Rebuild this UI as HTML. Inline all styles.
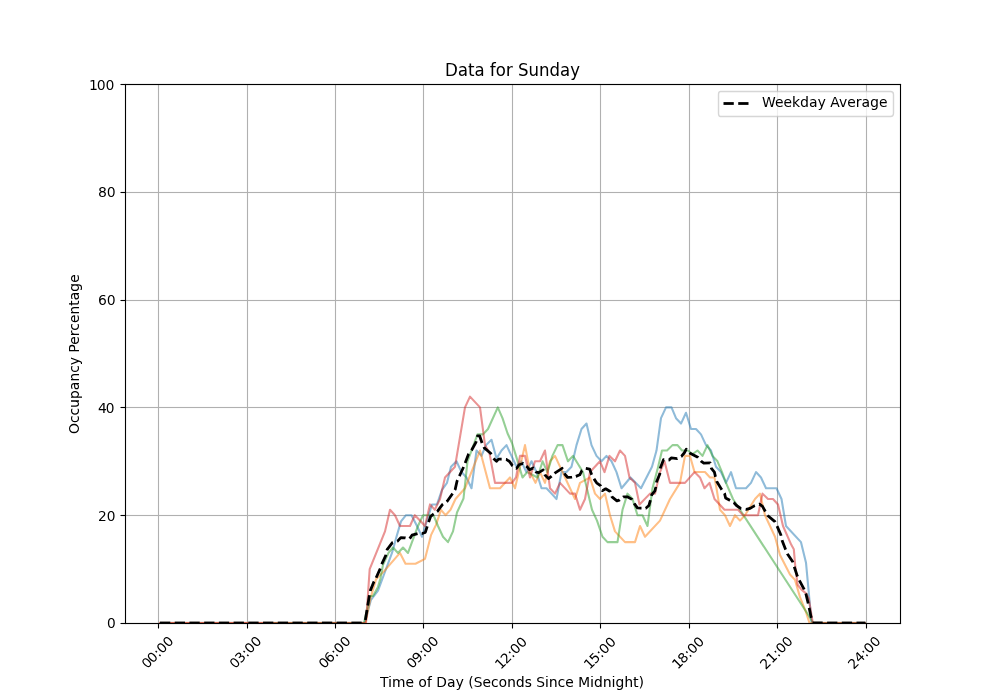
<!DOCTYPE html>
<html><head><meta charset="utf-8"><title>Data for Sunday</title>
<style>html,body{margin:0;padding:0;background:#fff;font-family:"Liberation Sans",sans-serif}svg{display:block}</style></head>
<body>
<svg width="1000" height="700" viewBox="0 0 720 504" style="display:block">
<defs>
<style type="text/css">*{stroke-linejoin: round; stroke-linecap: butt}</style>
</defs>
<g id="figure_1">
<g id="patch_1">
<path d="M 0 504 L 720 504 L 720 0 L 0 0 z
" style="fill: #ffffff"/>
</g>
<g id="axes_1">
<g id="patch_2">
<path d="M 90 448.56 L 648 448.56 L 648 60.48 L 90 60.48 z
" style="fill: #ffffff"/>
</g>
<g id="matplotlib.axis_1">
<g id="xtick_1">
<g id="line2d_1">
<path d="M 114.12 448.92 L 114.12 60.84" clip-path="url(#p07c3448b4f)" style="fill: none; stroke: #b0b0b0; stroke-width: 0.8; stroke-linecap: square"/>
</g>
<g id="line2d_2">
<defs>
<path id="m41c04e71f9" d="M 0 0 L 0 3.6" style="stroke: #000000; stroke-width: 0.8"/>
</defs>
<g>
<use href="#m41c04e71f9" x="114.12" y="448.92" style="stroke: #000000; stroke-width: 0.8"/>
</g>
</g>
<g id="text_1"><path transform="scale(0.72) translate(147.267 669.27) rotate(-45)" d="M 4.3438 -8.9062 Q 3.2656 -8.9062 2.7188 -7.9219 Q 2.1875 -6.9531 2.1875 -5.0000 Q 2.1875 -3.0469 2.7188 -2.0625 Q 3.2656 -1.0938 4.3438 -1.0938 Q 5.4219 -1.0938 5.9531 -2.0625 Q 6.5000 -3.0469 6.5000 -5.0000 Q 6.5000 -6.9531 5.9531 -7.9219 Q 5.4219 -8.9062 4.3438 -8.9062 Z M 4.3438 -10.0000 Q 6.0312 -10.0000 6.9219 -8.7188 Q 7.8125 -7.4375 7.8125 -5.0000 Q 7.8125 -2.5625 6.9219 -1.2812 Q 6.0312 -0.0000 4.3438 -0.0000 Q 2.6562 -0.0000 1.7656 -1.2812 Q 0.8750 -2.5625 0.8750 -5.0000 Q 0.8750 -7.4375 1.7656 -8.7188 Q 2.6562 -10.0000 4.3438 -10.0000 Z M 12.0938 -8.9062 Q 11.0156 -8.9062 10.4688 -7.9219 Q 9.9375 -6.9531 9.9375 -5.0000 Q 9.9375 -3.0469 10.4688 -2.0625 Q 11.0156 -1.0938 12.0938 -1.0938 Q 13.1719 -1.0938 13.7031 -2.0625 Q 14.2500 -3.0469 14.2500 -5.0000 Q 14.2500 -6.9531 13.7031 -7.9219 Q 13.1719 -8.9062 12.0938 -8.9062 Z M 12.0938 -10.0000 Q 13.7812 -10.0000 14.6719 -8.7188 Q 15.5625 -7.4375 15.5625 -5.0000 Q 15.5625 -2.5625 14.6719 -1.2812 Q 13.7812 -0.0000 12.0938 -0.0000 Q 10.4062 -0.0000 9.5156 -1.2812 Q 8.6250 -2.5625 8.6250 -5.0000 Q 8.6250 -7.4375 9.5156 -8.7188 Q 10.4062 -10.0000 12.0938 -10.0000 Z M 18.1250 -1.8438 L 19.5000 -1.8438 L 19.5000 -0.0000 L 18.1250 -0.0000 L 18.1250 -1.8438 Z M 18.1250 -7.0000 L 19.5000 -7.0000 L 19.5000 -5.1562 L 18.1250 -5.1562 L 18.1250 -7.0000 Z M 25.4688 -8.9062 Q 24.3906 -8.9062 23.8438 -7.9219 Q 23.3125 -6.9531 23.3125 -5.0000 Q 23.3125 -3.0469 23.8438 -2.0625 Q 24.3906 -1.0938 25.4688 -1.0938 Q 26.5469 -1.0938 27.0781 -2.0625 Q 27.6250 -3.0469 27.6250 -5.0000 Q 27.6250 -6.9531 27.0781 -7.9219 Q 26.5469 -8.9062 25.4688 -8.9062 Z M 25.4688 -10.0000 Q 27.1562 -10.0000 28.0469 -8.7188 Q 28.9375 -7.4375 28.9375 -5.0000 Q 28.9375 -2.5625 28.0469 -1.2812 Q 27.1562 -0.0000 25.4688 -0.0000 Q 23.7812 -0.0000 22.8906 -1.2812 Q 22.0000 -2.5625 22.0000 -5.0000 Q 22.0000 -7.4375 22.8906 -8.7188 Q 23.7812 -10.0000 25.4688 -10.0000 Z M 34.2188 -8.9062 Q 33.1406 -8.9062 32.5938 -7.9219 Q 32.0625 -6.9531 32.0625 -5.0000 Q 32.0625 -3.0469 32.5938 -2.0625 Q 33.1406 -1.0938 34.2188 -1.0938 Q 35.2969 -1.0938 35.8281 -2.0625 Q 36.3750 -3.0469 36.3750 -5.0000 Q 36.3750 -6.9531 35.8281 -7.9219 Q 35.2969 -8.9062 34.2188 -8.9062 Z M 34.2188 -10.0000 Q 35.9062 -10.0000 36.7969 -8.7188 Q 37.6875 -7.4375 37.6875 -5.0000 Q 37.6875 -2.5625 36.7969 -1.2812 Q 35.9062 -0.0000 34.2188 -0.0000 Q 32.5312 -0.0000 31.6406 -1.2812 Q 30.7500 -2.5625 30.7500 -5.0000 Q 30.7500 -7.4375 31.6406 -8.7188 Q 32.5312 -10.0000 34.2188 -10.0000 Z" fill="#000000"/></g>
</g>
<g id="xtick_2">
<g id="line2d_3">
<path d="M 178.2 448.92 L 178.2 60.84" clip-path="url(#p07c3448b4f)" style="fill: none; stroke: #b0b0b0; stroke-width: 0.8; stroke-linecap: square"/>
</g>
<g id="line2d_4">
<g>
<use href="#m41c04e71f9" x="178.2" y="448.92" style="stroke: #000000; stroke-width: 0.8"/>
</g>
</g>
<g id="text_2"><path transform="scale(0.72) translate(235.187 669.27) rotate(-45)" d="M 4.3438 -8.9062 Q 3.2656 -8.9062 2.7188 -7.9219 Q 2.1875 -6.9531 2.1875 -5.0000 Q 2.1875 -3.0469 2.7188 -2.0625 Q 3.2656 -1.0938 4.3438 -1.0938 Q 5.4219 -1.0938 5.9531 -2.0625 Q 6.5000 -3.0469 6.5000 -5.0000 Q 6.5000 -6.9531 5.9531 -7.9219 Q 5.4219 -8.9062 4.3438 -8.9062 Z M 4.3438 -10.0000 Q 6.0312 -10.0000 6.9219 -8.7188 Q 7.8125 -7.4375 7.8125 -5.0000 Q 7.8125 -2.5625 6.9219 -1.2812 Q 6.0312 -0.0000 4.3438 -0.0000 Q 2.6562 -0.0000 1.7656 -1.2812 Q 0.8750 -2.5625 0.8750 -5.0000 Q 0.8750 -7.4375 1.7656 -8.7188 Q 2.6562 -10.0000 4.3438 -10.0000 Z M 13.3438 -5.3906 Q 14.3281 -5.1875 14.8750 -4.5469 Q 15.4375 -3.9219 15.4375 -3.0000 Q 15.4375 -1.5625 14.4062 -0.7812 Q 13.3906 -0.0000 11.5000 -0.0000 Q 10.8750 -0.0000 10.2031 -0.1094 Q 9.5312 -0.2344 8.8125 -0.4688 L 8.8125 -1.7500 Q 9.3906 -1.4219 10.0625 -1.2500 Q 10.7500 -1.0938 11.4844 -1.0938 Q 12.7656 -1.0938 13.4375 -1.5781 Q 14.1250 -2.0781 14.1250 -3.0156 Q 14.1250 -3.8906 13.5000 -4.3750 Q 12.8750 -4.8594 11.7500 -4.8594 L 10.5625 -4.8594 L 10.5625 -5.9531 L 11.7969 -5.9531 Q 12.8125 -5.9531 13.3438 -6.3281 Q 13.8750 -6.7031 13.8750 -7.4062 Q 13.8750 -8.1406 13.3125 -8.5156 Q 12.7656 -8.9062 11.7500 -8.9062 Q 11.1875 -8.9062 10.5312 -8.7812 Q 9.8906 -8.6719 9.1250 -8.4375 L 9.1250 -9.5938 Q 9.8906 -9.7969 10.5625 -9.8906 Q 11.2500 -10.0000 11.8438 -10.0000 Q 13.3906 -10.0000 14.2812 -9.3281 Q 15.1875 -8.6562 15.1875 -7.5156 Q 15.1875 -6.7031 14.7031 -6.1406 Q 14.2344 -5.5938 13.3438 -5.3906 Z M 18.1250 -1.8438 L 19.5000 -1.8438 L 19.5000 -0.0000 L 18.1250 -0.0000 L 18.1250 -1.8438 Z M 18.1250 -7.0000 L 19.5000 -7.0000 L 19.5000 -5.1562 L 18.1250 -5.1562 L 18.1250 -7.0000 Z M 25.4688 -8.9062 Q 24.3906 -8.9062 23.8438 -7.9219 Q 23.3125 -6.9531 23.3125 -5.0000 Q 23.3125 -3.0469 23.8438 -2.0625 Q 24.3906 -1.0938 25.4688 -1.0938 Q 26.5469 -1.0938 27.0781 -2.0625 Q 27.6250 -3.0469 27.6250 -5.0000 Q 27.6250 -6.9531 27.0781 -7.9219 Q 26.5469 -8.9062 25.4688 -8.9062 Z M 25.4688 -10.0000 Q 27.1562 -10.0000 28.0469 -8.7188 Q 28.9375 -7.4375 28.9375 -5.0000 Q 28.9375 -2.5625 28.0469 -1.2812 Q 27.1562 -0.0000 25.4688 -0.0000 Q 23.7812 -0.0000 22.8906 -1.2812 Q 22.0000 -2.5625 22.0000 -5.0000 Q 22.0000 -7.4375 22.8906 -8.7188 Q 23.7812 -10.0000 25.4688 -10.0000 Z M 34.2188 -8.9062 Q 33.1406 -8.9062 32.5938 -7.9219 Q 32.0625 -6.9531 32.0625 -5.0000 Q 32.0625 -3.0469 32.5938 -2.0625 Q 33.1406 -1.0938 34.2188 -1.0938 Q 35.2969 -1.0938 35.8281 -2.0625 Q 36.3750 -3.0469 36.3750 -5.0000 Q 36.3750 -6.9531 35.8281 -7.9219 Q 35.2969 -8.9062 34.2188 -8.9062 Z M 34.2188 -10.0000 Q 35.9062 -10.0000 36.7969 -8.7188 Q 37.6875 -7.4375 37.6875 -5.0000 Q 37.6875 -2.5625 36.7969 -1.2812 Q 35.9062 -0.0000 34.2188 -0.0000 Q 32.5312 -0.0000 31.6406 -1.2812 Q 30.7500 -2.5625 30.7500 -5.0000 Q 30.7500 -7.4375 31.6406 -8.7188 Q 32.5312 -10.0000 34.2188 -10.0000 Z" fill="#000000"/></g>
</g>
<g id="xtick_3">
<g id="line2d_5">
<path d="M 241.56 448.92 L 241.56 60.84" clip-path="url(#p07c3448b4f)" style="fill: none; stroke: #b0b0b0; stroke-width: 0.8; stroke-linecap: square"/>
</g>
<g id="line2d_6">
<g>
<use href="#m41c04e71f9" x="241.56" y="448.92" style="stroke: #000000; stroke-width: 0.8"/>
</g>
</g>
<g id="text_3"><path transform="scale(0.72) translate(324.313 669.358) rotate(-45)" d="M 4.3438 -8.9062 Q 3.2656 -8.9062 2.7188 -7.9219 Q 2.1875 -6.9531 2.1875 -5.0000 Q 2.1875 -3.0469 2.7188 -2.0625 Q 3.2656 -1.0938 4.3438 -1.0938 Q 5.4219 -1.0938 5.9531 -2.0625 Q 6.5000 -3.0469 6.5000 -5.0000 Q 6.5000 -6.9531 5.9531 -7.9219 Q 5.4219 -8.9062 4.3438 -8.9062 Z M 4.3438 -10.0000 Q 6.0312 -10.0000 6.9219 -8.7188 Q 7.8125 -7.4375 7.8125 -5.0000 Q 7.8125 -2.5625 6.9219 -1.2812 Q 6.0312 -0.0000 4.3438 -0.0000 Q 2.6562 -0.0000 1.7656 -1.2812 Q 0.8750 -2.5625 0.8750 -5.0000 Q 0.8750 -7.4375 1.7656 -8.7188 Q 2.6562 -10.0000 4.3438 -10.0000 Z M 12.3594 -5.8594 Q 11.4219 -5.8594 10.8750 -5.2188 Q 10.3281 -4.5938 10.3281 -3.4844 Q 10.3281 -2.3750 10.8750 -1.7344 Q 11.4219 -1.0938 12.3594 -1.0938 Q 13.2812 -1.0938 13.8281 -1.7344 Q 14.3750 -2.3750 14.3750 -3.4844 Q 14.3750 -4.5938 13.8281 -5.2188 Q 13.2812 -5.8594 12.3594 -5.8594 Z M 15.0625 -9.6094 L 15.0625 -8.5156 Q 14.5469 -8.7031 14.0000 -8.7969 Q 13.4688 -8.9062 12.9531 -8.9062 Q 11.5781 -8.9062 10.8438 -8.1094 Q 10.1250 -7.3281 10.1250 -5.7188 Q 10.5156 -6.3281 11.1094 -6.6406 Q 11.7188 -6.9531 12.4375 -6.9531 Q 13.9375 -6.9531 14.8125 -6.0156 Q 15.6875 -5.0938 15.6875 -3.4844 Q 15.6875 -1.9062 14.7656 -0.9531 Q 13.8594 -0.0000 12.3438 -0.0000 Q 10.5938 -0.0000 9.6719 -1.2812 Q 8.7500 -2.5625 8.7500 -5.0000 Q 8.7500 -7.2812 9.8750 -8.6406 Q 11.0156 -10.0000 12.9375 -10.0000 Q 13.4531 -10.0000 13.9688 -9.9062 Q 14.5000 -9.8125 15.0625 -9.6094 Z M 18.2500 -1.8438 L 19.6250 -1.8438 L 19.6250 -0.0000 L 18.2500 -0.0000 L 18.2500 -1.8438 Z M 18.2500 -7.0000 L 19.6250 -7.0000 L 19.6250 -5.1562 L 18.2500 -5.1562 L 18.2500 -7.0000 Z M 25.5938 -8.9062 Q 24.5156 -8.9062 23.9688 -7.9219 Q 23.4375 -6.9531 23.4375 -5.0000 Q 23.4375 -3.0469 23.9688 -2.0625 Q 24.5156 -1.0938 25.5938 -1.0938 Q 26.6719 -1.0938 27.2031 -2.0625 Q 27.7500 -3.0469 27.7500 -5.0000 Q 27.7500 -6.9531 27.2031 -7.9219 Q 26.6719 -8.9062 25.5938 -8.9062 Z M 25.5938 -10.0000 Q 27.2812 -10.0000 28.1719 -8.7188 Q 29.0625 -7.4375 29.0625 -5.0000 Q 29.0625 -2.5625 28.1719 -1.2812 Q 27.2812 -0.0000 25.5938 -0.0000 Q 23.9062 -0.0000 23.0156 -1.2812 Q 22.1250 -2.5625 22.1250 -5.0000 Q 22.1250 -7.4375 23.0156 -8.7188 Q 23.9062 -10.0000 25.5938 -10.0000 Z M 34.3438 -8.9062 Q 33.2656 -8.9062 32.7188 -7.9219 Q 32.1875 -6.9531 32.1875 -5.0000 Q 32.1875 -3.0469 32.7188 -2.0625 Q 33.2656 -1.0938 34.3438 -1.0938 Q 35.4219 -1.0938 35.9531 -2.0625 Q 36.5000 -3.0469 36.5000 -5.0000 Q 36.5000 -6.9531 35.9531 -7.9219 Q 35.4219 -8.9062 34.3438 -8.9062 Z M 34.3438 -10.0000 Q 36.0312 -10.0000 36.9219 -8.7188 Q 37.8125 -7.4375 37.8125 -5.0000 Q 37.8125 -2.5625 36.9219 -1.2812 Q 36.0312 -0.0000 34.3438 -0.0000 Q 32.6562 -0.0000 31.7656 -1.2812 Q 30.8750 -2.5625 30.8750 -5.0000 Q 30.8750 -7.4375 31.7656 -8.7188 Q 32.6562 -10.0000 34.3438 -10.0000 Z" fill="#000000"/></g>
</g>
<g id="xtick_4">
<g id="line2d_7">
<path d="M 304.92 448.92 L 304.92 60.84" clip-path="url(#p07c3448b4f)" style="fill: none; stroke: #b0b0b0; stroke-width: 0.8; stroke-linecap: square"/>
</g>
<g id="line2d_8">
<g>
<use href="#m41c04e71f9" x="304.92" y="448.92" style="stroke: #000000; stroke-width: 0.8"/>
</g>
</g>
<g id="text_4"><path transform="scale(0.72) translate(412.233 669.358) rotate(-45)" d="M 4.3438 -8.9062 Q 3.2656 -8.9062 2.7188 -7.9219 Q 2.1875 -6.9531 2.1875 -5.0000 Q 2.1875 -3.0469 2.7188 -2.0625 Q 3.2656 -1.0938 4.3438 -1.0938 Q 5.4219 -1.0938 5.9531 -2.0625 Q 6.5000 -3.0469 6.5000 -5.0000 Q 6.5000 -6.9531 5.9531 -7.9219 Q 5.4219 -8.9062 4.3438 -8.9062 Z M 4.3438 -10.0000 Q 6.0312 -10.0000 6.9219 -8.7188 Q 7.8125 -7.4375 7.8125 -5.0000 Q 7.8125 -2.5625 6.9219 -1.2812 Q 6.0312 -0.0000 4.3438 -0.0000 Q 2.6562 -0.0000 1.7656 -1.2812 Q 0.8750 -2.5625 0.8750 -5.0000 Q 0.8750 -7.4375 1.7656 -8.7188 Q 2.6562 -10.0000 4.3438 -10.0000 Z M 9.2500 -0.3906 L 9.2500 -1.6562 Q 9.7812 -1.3906 10.3125 -1.2344 Q 10.8594 -1.0938 11.3906 -1.0938 Q 12.7812 -1.0938 13.5156 -2.0781 Q 14.2500 -3.0625 14.2500 -5.0625 Q 13.8594 -4.4844 13.2500 -4.1719 Q 12.6562 -3.8594 11.9219 -3.8594 Q 10.3906 -3.8594 9.5000 -4.6719 Q 8.6250 -5.5000 8.6250 -6.9375 Q 8.6250 -8.3125 9.5469 -9.1562 Q 10.4688 -10.0000 12.0156 -10.0000 Q 13.7656 -10.0000 14.6875 -8.7188 Q 15.6250 -7.4375 15.6250 -5.0000 Q 15.6250 -2.7188 14.4844 -1.3594 Q 13.3438 -0.0000 11.4062 -0.0000 Q 10.8906 -0.0000 10.3594 -0.0938 Q 9.8281 -0.1875 9.2500 -0.3906 Z M 12.0000 -4.9531 Q 12.9531 -4.9531 13.5000 -5.4844 Q 14.0625 -6.0156 14.0625 -6.9375 Q 14.0625 -7.8438 13.5000 -8.3750 Q 12.9531 -8.9062 12.0000 -8.9062 Q 11.0469 -8.9062 10.4844 -8.3750 Q 9.9375 -7.8438 9.9375 -6.9375 Q 9.9375 -6.0156 10.4844 -5.4844 Q 11.0469 -4.9531 12.0000 -4.9531 Z M 18.2500 -1.8438 L 19.6250 -1.8438 L 19.6250 -0.0000 L 18.2500 -0.0000 L 18.2500 -1.8438 Z M 18.2500 -7.0000 L 19.6250 -7.0000 L 19.6250 -5.1562 L 18.2500 -5.1562 L 18.2500 -7.0000 Z M 25.5938 -8.9062 Q 24.5156 -8.9062 23.9688 -7.9219 Q 23.4375 -6.9531 23.4375 -5.0000 Q 23.4375 -3.0469 23.9688 -2.0625 Q 24.5156 -1.0938 25.5938 -1.0938 Q 26.6719 -1.0938 27.2031 -2.0625 Q 27.7500 -3.0469 27.7500 -5.0000 Q 27.7500 -6.9531 27.2031 -7.9219 Q 26.6719 -8.9062 25.5938 -8.9062 Z M 25.5938 -10.0000 Q 27.2812 -10.0000 28.1719 -8.7188 Q 29.0625 -7.4375 29.0625 -5.0000 Q 29.0625 -2.5625 28.1719 -1.2812 Q 27.2812 -0.0000 25.5938 -0.0000 Q 23.9062 -0.0000 23.0156 -1.2812 Q 22.1250 -2.5625 22.1250 -5.0000 Q 22.1250 -7.4375 23.0156 -8.7188 Q 23.9062 -10.0000 25.5938 -10.0000 Z M 34.3438 -8.9062 Q 33.2656 -8.9062 32.7188 -7.9219 Q 32.1875 -6.9531 32.1875 -5.0000 Q 32.1875 -3.0469 32.7188 -2.0625 Q 33.2656 -1.0938 34.3438 -1.0938 Q 35.4219 -1.0938 35.9531 -2.0625 Q 36.5000 -3.0469 36.5000 -5.0000 Q 36.5000 -6.9531 35.9531 -7.9219 Q 35.4219 -8.9062 34.3438 -8.9062 Z M 34.3438 -10.0000 Q 36.0312 -10.0000 36.9219 -8.7188 Q 37.8125 -7.4375 37.8125 -5.0000 Q 37.8125 -2.5625 36.9219 -1.2812 Q 36.0312 -0.0000 34.3438 -0.0000 Q 32.6562 -0.0000 31.7656 -1.2812 Q 30.8750 -2.5625 30.8750 -5.0000 Q 30.8750 -7.4375 31.7656 -8.7188 Q 32.6562 -10.0000 34.3438 -10.0000 Z" fill="#000000"/></g>
</g>
<g id="xtick_5">
<g id="line2d_9">
<path d="M 369 448.92 L 369 60.84" clip-path="url(#p07c3448b4f)" style="fill: none; stroke: #b0b0b0; stroke-width: 0.8; stroke-linecap: square"/>
</g>
<g id="line2d_10">
<g>
<use href="#m41c04e71f9" x="369" y="448.92" style="stroke: #000000; stroke-width: 0.8"/>
</g>
</g>
<g id="text_5"><path transform="scale(0.72) translate(500.652 670.108) rotate(-45)" d="M 1.7500 -1.1875 L 4.0000 -1.1875 L 4.0000 -8.7812 L 1.5625 -8.2969 L 1.5625 -9.5156 L 3.9844 -10.0000 L 5.3125 -10.0000 L 5.3125 -1.1875 L 7.6250 -1.1875 L 7.6250 -0.0000 L 1.7500 -0.0000 L 1.7500 -1.1875 Z M 10.5312 -1.0938 L 15.2500 -1.0938 L 15.2500 -0.0000 L 8.8750 -0.0000 L 8.8750 -1.0938 Q 9.6562 -1.8750 11.0000 -3.2031 Q 12.3438 -4.5469 12.6875 -4.9219 Q 13.3594 -5.6406 13.6094 -6.1406 Q 13.8750 -6.6562 13.8750 -7.1250 Q 13.8750 -7.9062 13.3125 -8.4062 Q 12.7500 -8.9062 11.8281 -8.9062 Q 11.1875 -8.9062 10.4688 -8.6875 Q 9.7500 -8.4688 8.9375 -8.0312 L 8.9375 -9.3594 Q 9.7656 -9.6875 10.4688 -9.8438 Q 11.1875 -10.0000 11.7812 -10.0000 Q 13.3438 -10.0000 14.2656 -9.2344 Q 15.1875 -8.4688 15.1875 -7.1875 Q 15.1875 -6.5781 14.9531 -6.0312 Q 14.7344 -5.4844 14.1250 -4.7656 Q 13.9531 -4.5781 13.0469 -3.6562 Q 12.1562 -2.7344 10.5312 -1.0938 Z M 18.2500 -1.8438 L 19.6250 -1.8438 L 19.6250 -0.0000 L 18.2500 -0.0000 L 18.2500 -1.8438 Z M 18.2500 -7.0000 L 19.6250 -7.0000 L 19.6250 -5.1562 L 18.2500 -5.1562 L 18.2500 -7.0000 Z M 25.5938 -8.9062 Q 24.5156 -8.9062 23.9688 -7.9219 Q 23.4375 -6.9531 23.4375 -5.0000 Q 23.4375 -3.0469 23.9688 -2.0625 Q 24.5156 -1.0938 25.5938 -1.0938 Q 26.6719 -1.0938 27.2031 -2.0625 Q 27.7500 -3.0469 27.7500 -5.0000 Q 27.7500 -6.9531 27.2031 -7.9219 Q 26.6719 -8.9062 25.5938 -8.9062 Z M 25.5938 -10.0000 Q 27.2812 -10.0000 28.1719 -8.7188 Q 29.0625 -7.4375 29.0625 -5.0000 Q 29.0625 -2.5625 28.1719 -1.2812 Q 27.2812 -0.0000 25.5938 -0.0000 Q 23.9062 -0.0000 23.0156 -1.2812 Q 22.1250 -2.5625 22.1250 -5.0000 Q 22.1250 -7.4375 23.0156 -8.7188 Q 23.9062 -10.0000 25.5938 -10.0000 Z M 34.3438 -8.9062 Q 33.2656 -8.9062 32.7188 -7.9219 Q 32.1875 -6.9531 32.1875 -5.0000 Q 32.1875 -3.0469 32.7188 -2.0625 Q 33.2656 -1.0938 34.3438 -1.0938 Q 35.4219 -1.0938 35.9531 -2.0625 Q 36.5000 -3.0469 36.5000 -5.0000 Q 36.5000 -6.9531 35.9531 -7.9219 Q 35.4219 -8.9062 34.3438 -8.9062 Z M 34.3438 -10.0000 Q 36.0312 -10.0000 36.9219 -8.7188 Q 37.8125 -7.4375 37.8125 -5.0000 Q 37.8125 -2.5625 36.9219 -1.2812 Q 36.0312 -0.0000 34.3438 -0.0000 Q 32.6562 -0.0000 31.7656 -1.2812 Q 30.8750 -2.5625 30.8750 -5.0000 Q 30.8750 -7.4375 31.7656 -8.7188 Q 32.6562 -10.0000 34.3438 -10.0000 Z" fill="#000000"/></g>
</g>
<g id="xtick_6">
<g id="line2d_11">
<path d="M 432.36 448.92 L 432.36 60.84" clip-path="url(#p07c3448b4f)" style="fill: none; stroke: #b0b0b0; stroke-width: 0.8; stroke-linecap: square"/>
</g>
<g id="line2d_12">
<g>
<use href="#m41c04e71f9" x="432.36" y="448.92" style="stroke: #000000; stroke-width: 0.8"/>
</g>
</g>
<g id="text_6"><path transform="scale(0.72) translate(589.572 670.108) rotate(-45)" d="M 1.7500 -1.1875 L 4.0000 -1.1875 L 4.0000 -8.7812 L 1.5625 -8.2969 L 1.5625 -9.5156 L 3.9844 -10.0000 L 5.3125 -10.0000 L 5.3125 -1.1875 L 7.6250 -1.1875 L 7.6250 -0.0000 L 1.7500 -0.0000 L 1.7500 -1.1875 Z M 9.3750 -10.0000 L 14.7188 -10.0000 L 14.7188 -8.9062 L 10.6875 -8.9062 L 10.6875 -6.7656 Q 10.9844 -6.8594 11.2656 -6.9062 Q 11.5625 -6.9531 11.8594 -6.9531 Q 13.5156 -6.9531 14.4688 -6.0156 Q 15.4375 -5.0781 15.4375 -3.4844 Q 15.4375 -1.8281 14.4219 -0.9062 Q 13.4219 -0.0000 11.5781 -0.0000 Q 10.9531 -0.0000 10.2969 -0.0938 Q 9.6406 -0.2031 8.9375 -0.4062 L 8.9375 -1.7812 Q 9.5469 -1.4219 10.2031 -1.2500 Q 10.8594 -1.0938 11.5781 -1.0938 Q 12.7500 -1.0938 13.4375 -1.7344 Q 14.1250 -2.3750 14.1250 -3.4688 Q 14.1250 -4.5625 13.4375 -5.2031 Q 12.7656 -5.8594 11.5781 -5.8594 Q 11.0312 -5.8594 10.4844 -5.7188 Q 9.9375 -5.5938 9.3750 -5.3438 L 9.3750 -10.0000 Z M 18.2500 -1.8438 L 19.6250 -1.8438 L 19.6250 -0.0000 L 18.2500 -0.0000 L 18.2500 -1.8438 Z M 18.2500 -7.0000 L 19.6250 -7.0000 L 19.6250 -5.1562 L 18.2500 -5.1562 L 18.2500 -7.0000 Z M 25.5938 -8.9062 Q 24.5156 -8.9062 23.9688 -7.9219 Q 23.4375 -6.9531 23.4375 -5.0000 Q 23.4375 -3.0469 23.9688 -2.0625 Q 24.5156 -1.0938 25.5938 -1.0938 Q 26.6719 -1.0938 27.2031 -2.0625 Q 27.7500 -3.0469 27.7500 -5.0000 Q 27.7500 -6.9531 27.2031 -7.9219 Q 26.6719 -8.9062 25.5938 -8.9062 Z M 25.5938 -10.0000 Q 27.2812 -10.0000 28.1719 -8.7188 Q 29.0625 -7.4375 29.0625 -5.0000 Q 29.0625 -2.5625 28.1719 -1.2812 Q 27.2812 -0.0000 25.5938 -0.0000 Q 23.9062 -0.0000 23.0156 -1.2812 Q 22.1250 -2.5625 22.1250 -5.0000 Q 22.1250 -7.4375 23.0156 -8.7188 Q 23.9062 -10.0000 25.5938 -10.0000 Z M 34.3438 -8.9062 Q 33.2656 -8.9062 32.7188 -7.9219 Q 32.1875 -6.9531 32.1875 -5.0000 Q 32.1875 -3.0469 32.7188 -2.0625 Q 33.2656 -1.0938 34.3438 -1.0938 Q 35.4219 -1.0938 35.9531 -2.0625 Q 36.5000 -3.0469 36.5000 -5.0000 Q 36.5000 -6.9531 35.9531 -7.9219 Q 35.4219 -8.9062 34.3438 -8.9062 Z M 34.3438 -10.0000 Q 36.0312 -10.0000 36.9219 -8.7188 Q 37.8125 -7.4375 37.8125 -5.0000 Q 37.8125 -2.5625 36.9219 -1.2812 Q 36.0312 -0.0000 34.3438 -0.0000 Q 32.6562 -0.0000 31.7656 -1.2812 Q 30.8750 -2.5625 30.8750 -5.0000 Q 30.8750 -7.4375 31.7656 -8.7188 Q 32.6562 -10.0000 34.3438 -10.0000 Z" fill="#000000"/></g>
</g>
<g id="xtick_7">
<g id="line2d_13">
<path d="M 496.44 448.92 L 496.44 60.84" clip-path="url(#p07c3448b4f)" style="fill: none; stroke: #b0b0b0; stroke-width: 0.8; stroke-linecap: square"/>
</g>
<g id="line2d_14">
<g>
<use href="#m41c04e71f9" x="496.44" y="448.92" style="stroke: #000000; stroke-width: 0.8"/>
</g>
</g>
<g id="text_7"><path transform="scale(0.72) translate(677.698 669.946) rotate(-45)" d="M 1.7500 -1.1875 L 4.0000 -1.1875 L 4.0000 -8.7812 L 1.5625 -8.2969 L 1.5625 -9.5156 L 3.9844 -10.0000 L 5.3125 -10.0000 L 5.3125 -1.1875 L 7.6250 -1.1875 L 7.6250 -0.0000 L 1.7500 -0.0000 L 1.7500 -1.1875 Z M 12.3438 -4.8594 Q 11.3438 -4.8594 10.7656 -4.3594 Q 10.1875 -3.8594 10.1875 -2.9844 Q 10.1875 -2.0938 10.7656 -1.5938 Q 11.3438 -1.0938 12.3438 -1.0938 Q 13.3438 -1.0938 13.9219 -1.5938 Q 14.5000 -2.1094 14.5000 -2.9844 Q 14.5000 -3.8594 13.9219 -4.3594 Q 13.3594 -4.8594 12.3438 -4.8594 Z M 10.9844 -5.3281 Q 10.1094 -5.5312 9.6094 -6.0938 Q 9.1250 -6.6719 9.1250 -7.5156 Q 9.1250 -8.6562 9.9844 -9.3281 Q 10.8438 -10.0000 12.3438 -10.0000 Q 13.8438 -10.0000 14.7031 -9.3438 Q 15.5625 -8.6875 15.5625 -7.5781 Q 15.5625 -6.7656 15.0781 -6.2031 Q 14.5938 -5.6562 13.7344 -5.4531 Q 14.7188 -5.2344 15.2656 -4.5625 Q 15.8125 -3.9062 15.8125 -2.9688 Q 15.8125 -1.5469 14.9062 -0.7656 Q 14.0156 -0.0000 12.3438 -0.0000 Q 10.6719 -0.0000 9.7656 -0.7500 Q 8.8750 -1.5000 8.8750 -2.8906 Q 8.8750 -3.8281 9.4375 -4.4688 Q 10.0000 -5.1094 10.9844 -5.3281 Z M 10.4375 -7.4219 Q 10.4375 -6.7344 10.9375 -6.3438 Q 11.4375 -5.9531 12.3438 -5.9531 Q 13.2344 -5.9531 13.7344 -6.3438 Q 14.2500 -6.7344 14.2500 -7.4219 Q 14.2500 -8.1250 13.7344 -8.5156 Q 13.2344 -8.9062 12.3438 -8.9062 Q 11.4375 -8.9062 10.9375 -8.5156 Q 10.4375 -8.1250 10.4375 -7.4219 Z M 18.3750 -1.8438 L 19.7500 -1.8438 L 19.7500 -0.0000 L 18.3750 -0.0000 L 18.3750 -1.8438 Z M 18.3750 -7.0000 L 19.7500 -7.0000 L 19.7500 -5.1562 L 18.3750 -5.1562 L 18.3750 -7.0000 Z M 25.7188 -8.9062 Q 24.6406 -8.9062 24.0938 -7.9219 Q 23.5625 -6.9531 23.5625 -5.0000 Q 23.5625 -3.0469 24.0938 -2.0625 Q 24.6406 -1.0938 25.7188 -1.0938 Q 26.7969 -1.0938 27.3281 -2.0625 Q 27.8750 -3.0469 27.8750 -5.0000 Q 27.8750 -6.9531 27.3281 -7.9219 Q 26.7969 -8.9062 25.7188 -8.9062 Z M 25.7188 -10.0000 Q 27.4062 -10.0000 28.2969 -8.7188 Q 29.1875 -7.4375 29.1875 -5.0000 Q 29.1875 -2.5625 28.2969 -1.2812 Q 27.4062 -0.0000 25.7188 -0.0000 Q 24.0312 -0.0000 23.1406 -1.2812 Q 22.2500 -2.5625 22.2500 -5.0000 Q 22.2500 -7.4375 23.1406 -8.7188 Q 24.0312 -10.0000 25.7188 -10.0000 Z M 34.4688 -8.9062 Q 33.3906 -8.9062 32.8438 -7.9219 Q 32.3125 -6.9531 32.3125 -5.0000 Q 32.3125 -3.0469 32.8438 -2.0625 Q 33.3906 -1.0938 34.4688 -1.0938 Q 35.5469 -1.0938 36.0781 -2.0625 Q 36.6250 -3.0469 36.6250 -5.0000 Q 36.6250 -6.9531 36.0781 -7.9219 Q 35.5469 -8.9062 34.4688 -8.9062 Z M 34.4688 -10.0000 Q 36.1562 -10.0000 37.0469 -8.7188 Q 37.9375 -7.4375 37.9375 -5.0000 Q 37.9375 -2.5625 37.0469 -1.2812 Q 36.1562 -0.0000 34.4688 -0.0000 Q 32.7812 -0.0000 31.8906 -1.2812 Q 31.0000 -2.5625 31.0000 -5.0000 Q 31.0000 -7.4375 31.8906 -8.7188 Q 32.7812 -10.0000 34.4688 -10.0000 Z" fill="#000000"/></g>
</g>
<g id="xtick_8">
<g id="line2d_15">
<path d="M 559.8 448.92 L 559.8 60.84" clip-path="url(#p07c3448b4f)" style="fill: none; stroke: #b0b0b0; stroke-width: 0.8; stroke-linecap: square"/>
</g>
<g id="line2d_16">
<g>
<use href="#m41c04e71f9" x="559.8" y="448.92" style="stroke: #000000; stroke-width: 0.8"/>
</g>
</g>
<g id="text_8"><path transform="scale(0.72) translate(765.662 670.108) rotate(-45)" d="M 2.6562 -1.0938 L 7.3750 -1.0938 L 7.3750 -0.0000 L 1.0000 -0.0000 L 1.0000 -1.0938 Q 1.7812 -1.8750 3.1250 -3.2031 Q 4.4688 -4.5469 4.8125 -4.9219 Q 5.4844 -5.6406 5.7344 -6.1406 Q 6.0000 -6.6562 6.0000 -7.1250 Q 6.0000 -7.9062 5.4375 -8.4062 Q 4.8750 -8.9062 3.9531 -8.9062 Q 3.3125 -8.9062 2.5938 -8.6875 Q 1.8750 -8.4688 1.0625 -8.0312 L 1.0625 -9.3594 Q 1.8906 -9.6875 2.5938 -9.8438 Q 3.3125 -10.0000 3.9062 -10.0000 Q 5.4688 -10.0000 6.3906 -9.2344 Q 7.3125 -8.4688 7.3125 -7.1875 Q 7.3125 -6.5781 7.0781 -6.0312 Q 6.8594 -5.4844 6.2500 -4.7656 Q 6.0781 -4.5781 5.1719 -3.6562 Q 4.2812 -2.7344 2.6562 -1.0938 Z M 10.5000 -1.1875 L 12.7500 -1.1875 L 12.7500 -8.7812 L 10.3125 -8.2969 L 10.3125 -9.5156 L 12.7344 -10.0000 L 14.0625 -10.0000 L 14.0625 -1.1875 L 16.3750 -1.1875 L 16.3750 -0.0000 L 10.5000 -0.0000 L 10.5000 -1.1875 Z M 19.2500 -1.8438 L 20.6250 -1.8438 L 20.6250 -0.0000 L 19.2500 -0.0000 L 19.2500 -1.8438 Z M 19.2500 -7.0000 L 20.6250 -7.0000 L 20.6250 -5.1562 L 19.2500 -5.1562 L 19.2500 -7.0000 Z M 26.5938 -8.9062 Q 25.5156 -8.9062 24.9688 -7.9219 Q 24.4375 -6.9531 24.4375 -5.0000 Q 24.4375 -3.0469 24.9688 -2.0625 Q 25.5156 -1.0938 26.5938 -1.0938 Q 27.6719 -1.0938 28.2031 -2.0625 Q 28.7500 -3.0469 28.7500 -5.0000 Q 28.7500 -6.9531 28.2031 -7.9219 Q 27.6719 -8.9062 26.5938 -8.9062 Z M 26.5938 -10.0000 Q 28.2812 -10.0000 29.1719 -8.7188 Q 30.0625 -7.4375 30.0625 -5.0000 Q 30.0625 -2.5625 29.1719 -1.2812 Q 28.2812 -0.0000 26.5938 -0.0000 Q 24.9062 -0.0000 24.0156 -1.2812 Q 23.1250 -2.5625 23.1250 -5.0000 Q 23.1250 -7.4375 24.0156 -8.7188 Q 24.9062 -10.0000 26.5938 -10.0000 Z M 35.3438 -8.9062 Q 34.2656 -8.9062 33.7188 -7.9219 Q 33.1875 -6.9531 33.1875 -5.0000 Q 33.1875 -3.0469 33.7188 -2.0625 Q 34.2656 -1.0938 35.3438 -1.0938 Q 36.4219 -1.0938 36.9531 -2.0625 Q 37.5000 -3.0469 37.5000 -5.0000 Q 37.5000 -6.9531 36.9531 -7.9219 Q 36.4219 -8.9062 35.3438 -8.9062 Z M 35.3438 -10.0000 Q 37.0312 -10.0000 37.9219 -8.7188 Q 38.8125 -7.4375 38.8125 -5.0000 Q 38.8125 -2.5625 37.9219 -1.2812 Q 37.0312 -0.0000 35.3438 -0.0000 Q 33.6562 -0.0000 32.7656 -1.2812 Q 31.8750 -2.5625 31.8750 -5.0000 Q 31.8750 -7.4375 32.7656 -8.7188 Q 33.6562 -10.0000 35.3438 -10.0000 Z" fill="#000000"/></g>
</g>
<g id="xtick_9">
<g id="line2d_17">
<path d="M 623.88 448.92 L 623.88 60.84" clip-path="url(#p07c3448b4f)" style="fill: none; stroke: #b0b0b0; stroke-width: 0.8; stroke-linecap: square"/>
</g>
<g id="line2d_18">
<g>
<use href="#m41c04e71f9" x="623.88" y="448.92" style="stroke: #000000; stroke-width: 0.8"/>
</g>
</g>
<g id="text_9"><path transform="scale(0.72) translate(853.626 670.02) rotate(-45)" d="M 2.6562 -1.0938 L 7.3750 -1.0938 L 7.3750 -0.0000 L 1.0000 -0.0000 L 1.0000 -1.0938 Q 1.7812 -1.8750 3.1250 -3.2031 Q 4.4688 -4.5469 4.8125 -4.9219 Q 5.4844 -5.6406 5.7344 -6.1406 Q 6.0000 -6.6562 6.0000 -7.1250 Q 6.0000 -7.9062 5.4375 -8.4062 Q 4.8750 -8.9062 3.9531 -8.9062 Q 3.3125 -8.9062 2.5938 -8.6875 Q 1.8750 -8.4688 1.0625 -8.0312 L 1.0625 -9.3594 Q 1.8906 -9.6875 2.5938 -9.8438 Q 3.3125 -10.0000 3.9062 -10.0000 Q 5.4688 -10.0000 6.3906 -9.2344 Q 7.3125 -8.4688 7.3125 -7.1875 Q 7.3125 -6.5781 7.0781 -6.0312 Q 6.8594 -5.4844 6.2500 -4.7656 Q 6.0781 -4.5781 5.1719 -3.6562 Q 4.2812 -2.7344 2.6562 -1.0938 Z M 14.0000 -8.9062 L 10.5469 -3.9844 L 14.0000 -3.9844 L 14.0000 -8.9062 Z M 13.6406 -10.0000 L 15.3125 -10.0000 L 15.3125 -3.9844 L 16.7656 -3.9844 L 16.7656 -2.8281 L 15.3125 -2.8281 L 15.3125 -0.0000 L 14.0000 -0.0000 L 14.0000 -2.8281 L 9.4375 -2.8281 L 9.4375 -4.1562 L 13.6406 -10.0000 Z M 19.1250 -1.8438 L 20.5000 -1.8438 L 20.5000 -0.0000 L 19.1250 -0.0000 L 19.1250 -1.8438 Z M 19.1250 -7.0000 L 20.5000 -7.0000 L 20.5000 -5.1562 L 19.1250 -5.1562 L 19.1250 -7.0000 Z M 26.4688 -8.9062 Q 25.3906 -8.9062 24.8438 -7.9219 Q 24.3125 -6.9531 24.3125 -5.0000 Q 24.3125 -3.0469 24.8438 -2.0625 Q 25.3906 -1.0938 26.4688 -1.0938 Q 27.5469 -1.0938 28.0781 -2.0625 Q 28.6250 -3.0469 28.6250 -5.0000 Q 28.6250 -6.9531 28.0781 -7.9219 Q 27.5469 -8.9062 26.4688 -8.9062 Z M 26.4688 -10.0000 Q 28.1562 -10.0000 29.0469 -8.7188 Q 29.9375 -7.4375 29.9375 -5.0000 Q 29.9375 -2.5625 29.0469 -1.2812 Q 28.1562 -0.0000 26.4688 -0.0000 Q 24.7812 -0.0000 23.8906 -1.2812 Q 23.0000 -2.5625 23.0000 -5.0000 Q 23.0000 -7.4375 23.8906 -8.7188 Q 24.7812 -10.0000 26.4688 -10.0000 Z M 35.2188 -8.9062 Q 34.1406 -8.9062 33.5938 -7.9219 Q 33.0625 -6.9531 33.0625 -5.0000 Q 33.0625 -3.0469 33.5938 -2.0625 Q 34.1406 -1.0938 35.2188 -1.0938 Q 36.2969 -1.0938 36.8281 -2.0625 Q 37.3750 -3.0469 37.3750 -5.0000 Q 37.3750 -6.9531 36.8281 -7.9219 Q 36.2969 -8.9062 35.2188 -8.9062 Z M 35.2188 -10.0000 Q 36.9062 -10.0000 37.7969 -8.7188 Q 38.6875 -7.4375 38.6875 -5.0000 Q 38.6875 -2.5625 37.7969 -1.2812 Q 36.9062 -0.0000 35.2188 -0.0000 Q 33.5312 -0.0000 32.6406 -1.2812 Q 31.7500 -2.5625 31.7500 -5.0000 Q 31.7500 -7.4375 32.6406 -8.7188 Q 33.5312 -10.0000 35.2188 -10.0000 Z" fill="#000000"/></g>
</g>
<g id="text_10"><path transform="scale(0.72) translate(380 687)" d="M 0.0000 -10.0000 L 8.5000 -10.0000 L 8.5000 -8.9062 L 4.9375 -8.9062 L 4.9375 -0.0000 L 3.6250 -0.0000 L 3.6250 -8.9062 L 0.0000 -8.9062 L 0.0000 -10.0000 Z M 9.3750 -8.0000 L 10.6875 -8.0000 L 10.6875 -0.0000 L 9.3750 -0.0000 L 9.3750 -8.0000 Z M 9.3750 -11.0000 L 10.6875 -11.0000 L 10.6875 -9.9062 L 9.3750 -9.9062 L 9.3750 -11.0000 Z M 19.2344 -6.3125 Q 19.7031 -7.1719 20.3438 -7.5781 Q 20.9844 -8.0000 21.8594 -8.0000 Q 23.0312 -8.0000 23.6719 -7.1406 Q 24.3125 -6.2812 24.3125 -4.7188 L 24.3125 -0.0000 L 23.0000 -0.0000 L 23.0000 -4.6875 Q 23.0000 -5.8281 22.6250 -6.3594 Q 22.2500 -6.9062 21.4844 -6.9062 Q 20.5312 -6.9062 19.9844 -6.2500 Q 19.4375 -5.5938 19.4375 -4.4219 L 19.4375 -0.0000 L 18.1250 -0.0000 L 18.1250 -4.6875 Q 18.1250 -5.8281 17.7500 -6.3594 Q 17.3750 -6.9062 16.5938 -6.9062 Q 15.6562 -6.9062 15.1094 -6.2344 Q 14.5625 -5.5781 14.5625 -4.4219 L 14.5625 -0.0000 L 13.2500 -0.0000 L 13.2500 -8.0000 L 14.5625 -8.0000 L 14.5625 -6.6250 Q 14.9844 -7.3281 15.5781 -7.6562 Q 16.1719 -8.0000 16.9844 -8.0000 Q 17.8125 -8.0000 18.3750 -7.5625 Q 18.9531 -7.1250 19.2344 -6.3125 Z M 33.3125 -4.4531 L 33.3125 -3.8594 L 27.5625 -3.8594 Q 27.5625 -2.5000 28.2656 -1.7969 Q 28.9688 -1.0938 30.2344 -1.0938 Q 30.9688 -1.0938 31.6406 -1.2812 Q 32.3281 -1.4688 33.0156 -1.8281 L 33.0156 -0.6094 Q 32.3438 -0.3281 31.6250 -0.1562 Q 30.9219 -0.0000 30.2031 -0.0000 Q 28.3750 -0.0000 27.3125 -1.0625 Q 26.2500 -2.1250 26.2500 -3.9375 Q 26.2500 -5.8125 27.2500 -6.9062 Q 28.2656 -8.0000 29.9844 -8.0000 Q 31.5312 -8.0000 32.4219 -7.0469 Q 33.3125 -6.0938 33.3125 -4.4531 Z M 32.0000 -4.9531 Q 32.0000 -5.8438 31.4375 -6.3750 Q 30.8750 -6.9062 29.9531 -6.9062 Q 28.9219 -6.9062 28.2812 -6.3906 Q 27.6562 -5.8906 27.5625 -4.9531 L 32.0000 -4.9531 Z M 42.5938 -6.9062 Q 41.6094 -6.9062 41.0156 -6.1250 Q 40.4375 -5.3438 40.4375 -4.0000 Q 40.4375 -2.6562 41.0156 -1.8750 Q 41.5938 -1.0938 42.5938 -1.0938 Q 43.5938 -1.0938 44.1719 -1.8750 Q 44.7500 -2.6562 44.7500 -4.0000 Q 44.7500 -5.3438 44.1719 -6.1250 Q 43.5938 -6.9062 42.5938 -6.9062 Z M 42.5938 -8.0000 Q 44.2188 -8.0000 45.1406 -6.9375 Q 46.0625 -5.8750 46.0625 -4.0000 Q 46.0625 -2.1406 45.1406 -1.0625 Q 44.2188 -0.0000 42.5938 -0.0000 Q 40.9688 -0.0000 40.0469 -1.0625 Q 39.1250 -2.1406 39.1250 -4.0000 Q 39.1250 -5.8750 40.0469 -6.9375 Q 40.9688 -8.0000 42.5938 -8.0000 Z M 52.0625 -11.0000 L 52.0625 -9.9062 L 50.9062 -9.9062 Q 50.2500 -9.9062 50.0000 -9.6250 Q 49.7500 -9.3594 49.7500 -8.6719 L 49.7500 -8.0000 L 51.7500 -8.0000 L 51.7500 -6.9062 L 49.7500 -6.9062 L 49.7500 -0.0000 L 48.4375 -0.0000 L 48.4375 -6.9062 L 47.2500 -6.9062 L 47.2500 -8.0000 L 48.4375 -8.0000 L 48.4375 -8.5469 Q 48.4375 -9.8281 49.0156 -10.4062 Q 49.6094 -11.0000 50.8906 -11.0000 L 52.0625 -11.0000 Z M 58.9375 -8.9062 L 58.9375 -1.0938 L 60.5938 -1.0938 Q 62.6875 -1.0938 63.6562 -2.0312 Q 64.6250 -2.9844 64.6250 -5.0156 Q 64.6250 -7.0312 63.6562 -7.9688 Q 62.6875 -8.9062 60.5938 -8.9062 L 58.9375 -8.9062 Z M 57.6250 -10.0000 L 60.4375 -10.0000 Q 63.3750 -10.0000 64.7500 -8.7812 Q 66.1250 -7.5781 66.1250 -5.0156 Q 66.1250 -2.4375 64.7344 -1.2188 Q 63.3594 -0.0000 60.4375 -0.0000 L 57.6250 -0.0000 L 57.6250 -10.0000 Z M 71.7969 -3.8594 Q 70.3281 -3.8594 69.7500 -3.5312 Q 69.1875 -3.2188 69.1875 -2.4375 Q 69.1875 -1.8125 69.6094 -1.4531 Q 70.0469 -1.0938 70.7656 -1.0938 Q 71.7812 -1.0938 72.3906 -1.7812 Q 73.0000 -2.4688 73.0000 -3.6094 L 73.0000 -3.8594 L 71.7969 -3.8594 Z M 74.3125 -4.4531 L 74.3125 -0.0000 L 73.0000 -0.0000 L 73.0000 -1.3750 Q 72.5781 -0.6719 71.9375 -0.3281 Q 71.3125 -0.0000 70.3906 -0.0000 Q 69.2344 -0.0000 68.5469 -0.6406 Q 67.8750 -1.2969 67.8750 -2.3906 Q 67.8750 -3.6719 68.7188 -4.3125 Q 69.5781 -4.9531 71.2656 -4.9531 L 73.0000 -4.9531 L 73.0000 -5.0938 Q 73.0000 -5.9531 72.4375 -6.4219 Q 71.8906 -6.9062 70.8750 -6.9062 Q 70.2344 -6.9062 69.6250 -6.7500 Q 69.0156 -6.5938 68.4688 -6.2812 L 68.4688 -7.4531 Q 69.1406 -7.7188 69.7812 -7.8594 Q 70.4375 -8.0000 71.0469 -8.0000 Q 72.6875 -8.0000 73.5000 -7.1094 Q 74.3125 -6.2344 74.3125 -4.4531 Z M 80.1250 0.7031 Q 79.5938 2.1406 79.0938 2.5625 Q 78.5938 3.0000 77.7500 3.0000 L 76.7500 3.0000 L 76.7500 1.9219 L 77.4844 1.9219 Q 78.0000 1.9219 78.2812 1.6562 Q 78.5625 1.4062 78.9062 0.4531 L 79.1406 -0.1406 L 76.0625 -8.0000 L 77.3906 -8.0000 L 79.7656 -1.7500 L 82.1250 -8.0000 L 83.4531 -8.0000 L 80.1250 0.7031 Z M 92.6094 -11.0000 Q 91.7031 -9.4375 91.2500 -7.8906 Q 90.8125 -6.3438 90.8125 -4.7500 Q 90.8125 -3.1719 91.2500 -1.6094 Q 91.7031 -0.0625 92.6094 1.5000 L 91.5156 1.5000 Q 90.5000 -0.0938 90.0000 -1.6562 Q 89.5000 -3.2188 89.5000 -4.7500 Q 89.5000 -6.2812 90.0000 -7.8281 Q 90.5000 -9.3906 91.5156 -11.0000 L 92.6094 -11.0000 Z M 101.1719 -9.5000 L 101.1719 -8.2031 Q 100.3750 -8.5625 99.6719 -8.7344 Q 98.9688 -8.9062 98.3125 -8.9062 Q 97.1719 -8.9062 96.5469 -8.4844 Q 95.9375 -8.0781 95.9375 -7.3281 Q 95.9375 -6.6875 96.3438 -6.3594 Q 96.7500 -6.0312 97.8906 -5.8438 L 98.7344 -5.6719 Q 100.2812 -5.4062 101.0156 -4.7031 Q 101.7500 -4.0000 101.7500 -2.8438 Q 101.7500 -1.4375 100.7656 -0.7188 Q 99.7812 -0.0000 97.8750 -0.0000 Q 97.1562 -0.0000 96.3438 -0.1562 Q 95.5312 -0.3281 94.6719 -0.6406 L 94.6719 -1.9844 Q 95.5156 -1.5469 96.3125 -1.3125 Q 97.1250 -1.0938 97.9062 -1.0938 Q 99.0938 -1.0938 99.7344 -1.5312 Q 100.3750 -1.9688 100.3750 -2.7812 Q 100.3750 -3.4844 99.9062 -3.8906 Q 99.4531 -4.2969 98.4062 -4.4844 L 97.5625 -4.6406 Q 96.0156 -4.9219 95.3125 -5.5469 Q 94.6250 -6.1719 94.6250 -7.2656 Q 94.6250 -8.5469 95.5781 -9.2656 Q 96.5312 -10.0000 98.1875 -10.0000 Q 98.9062 -10.0000 99.6406 -9.8750 Q 100.3906 -9.7500 101.1719 -9.5000 Z M 110.3125 -4.4531 L 110.3125 -3.8594 L 104.5625 -3.8594 Q 104.5625 -2.5000 105.2656 -1.7969 Q 105.9688 -1.0938 107.2344 -1.0938 Q 107.9688 -1.0938 108.6406 -1.2812 Q 109.3281 -1.4688 110.0156 -1.8281 L 110.0156 -0.6094 Q 109.3438 -0.3281 108.6250 -0.1562 Q 107.9219 -0.0000 107.2031 -0.0000 Q 105.3750 -0.0000 104.3125 -1.0625 Q 103.2500 -2.1250 103.2500 -3.9375 Q 103.2500 -5.8125 104.2500 -6.9062 Q 105.2656 -8.0000 106.9844 -8.0000 Q 108.5312 -8.0000 109.4219 -7.0469 Q 110.3125 -6.0938 110.3125 -4.4531 Z M 109.0000 -4.9531 Q 109.0000 -5.8438 108.4375 -6.3750 Q 107.8750 -6.9062 106.9531 -6.9062 Q 105.9219 -6.9062 105.2812 -6.3906 Q 104.6562 -5.8906 104.5625 -4.9531 L 109.0000 -4.9531 Z M 117.7500 -7.5156 L 117.7500 -6.3281 Q 117.2188 -6.6094 116.6875 -6.7500 Q 116.1562 -6.9062 115.6250 -6.9062 Q 114.4062 -6.9062 113.7344 -6.1406 Q 113.0625 -5.3750 113.0625 -4.0000 Q 113.0625 -2.6250 113.7344 -1.8594 Q 114.4062 -1.0938 115.6250 -1.0938 Q 116.1562 -1.0938 116.6875 -1.2344 Q 117.2188 -1.3750 117.7500 -1.6719 L 117.7500 -0.5000 Q 117.2344 -0.2500 116.6719 -0.1250 Q 116.1094 -0.0000 115.4844 -0.0000 Q 113.7656 -0.0000 112.7500 -1.0781 Q 111.7500 -2.1562 111.7500 -4.0000 Q 111.7500 -5.8594 112.7656 -6.9219 Q 113.7969 -8.0000 115.5625 -8.0000 Q 116.1406 -8.0000 116.6875 -7.8750 Q 117.2344 -7.7500 117.7500 -7.5156 Z M 122.8438 -6.9062 Q 121.8594 -6.9062 121.2656 -6.1250 Q 120.6875 -5.3438 120.6875 -4.0000 Q 120.6875 -2.6562 121.2656 -1.8750 Q 121.8438 -1.0938 122.8438 -1.0938 Q 123.8438 -1.0938 124.4219 -1.8750 Q 125.0000 -2.6562 125.0000 -4.0000 Q 125.0000 -5.3438 124.4219 -6.1250 Q 123.8438 -6.9062 122.8438 -6.9062 Z M 122.8438 -8.0000 Q 124.4688 -8.0000 125.3906 -6.9375 Q 126.3125 -5.8750 126.3125 -4.0000 Q 126.3125 -2.1406 125.3906 -1.0625 Q 124.4688 -0.0000 122.8438 -0.0000 Q 121.2188 -0.0000 120.2969 -1.0625 Q 119.3750 -2.1406 119.3750 -4.0000 Q 119.3750 -5.8750 120.2969 -6.9375 Q 121.2188 -8.0000 122.8438 -8.0000 Z M 134.7500 -4.7188 L 134.7500 -0.0000 L 133.4375 -0.0000 L 133.4375 -4.6875 Q 133.4375 -5.8125 133.0312 -6.3594 Q 132.6250 -6.9062 131.7969 -6.9062 Q 130.8281 -6.9062 130.2500 -6.2500 Q 129.6875 -5.5938 129.6875 -4.4219 L 129.6875 -0.0000 L 128.3750 -0.0000 L 128.3750 -8.0000 L 129.6875 -8.0000 L 129.6875 -6.6250 Q 130.1406 -7.3125 130.7344 -7.6562 Q 131.3438 -8.0000 132.1250 -8.0000 Q 133.4219 -8.0000 134.0781 -7.1562 Q 134.7500 -6.3281 134.7500 -4.7188 Z M 142.1250 -6.6250 L 142.1250 -11.0000 L 143.4375 -11.0000 L 143.4375 -0.0000 L 142.1250 -0.0000 L 142.1250 -1.3750 Q 141.7344 -0.6719 141.1406 -0.3281 Q 140.5469 -0.0000 139.7031 -0.0000 Q 138.3438 -0.0000 137.4844 -1.0938 Q 136.6250 -2.2031 136.6250 -4.0000 Q 136.6250 -5.7969 137.4844 -6.8906 Q 138.3438 -8.0000 139.7031 -8.0000 Q 140.5469 -8.0000 141.1406 -7.6562 Q 141.7344 -7.3281 142.1250 -6.6250 Z M 137.9375 -4.0000 Q 137.9375 -2.6406 138.4844 -1.8594 Q 139.0469 -1.0938 140.0312 -1.0938 Q 141.0000 -1.0938 141.5625 -1.8594 Q 142.1250 -2.6406 142.1250 -4.0000 Q 142.1250 -5.3594 141.5625 -6.1250 Q 141.0000 -6.9062 140.0312 -6.9062 Q 139.0469 -6.9062 138.4844 -6.1250 Q 137.9375 -5.3594 137.9375 -4.0000 Z M 150.8281 -7.5781 L 150.8281 -6.3750 Q 150.3125 -6.6406 149.7500 -6.7656 Q 149.1875 -6.9062 148.5781 -6.9062 Q 147.6719 -6.9062 147.2031 -6.6250 Q 146.7500 -6.3438 146.7500 -5.7656 Q 146.7500 -5.3438 147.0781 -5.0938 Q 147.4062 -4.8438 148.4062 -4.6250 L 148.8281 -4.5312 Q 150.1406 -4.2344 150.6875 -3.7188 Q 151.2500 -3.2031 151.2500 -2.2812 Q 151.2500 -1.2344 150.4062 -0.6094 Q 149.5781 -0.0000 148.1094 -0.0000 Q 147.5000 -0.0000 146.8281 -0.1250 Q 146.1719 -0.2656 145.4531 -0.5000 L 145.4531 -1.7969 Q 146.1406 -1.4375 146.7969 -1.2656 Q 147.4688 -1.0938 148.1250 -1.0938 Q 149.0000 -1.0938 149.4688 -1.3906 Q 149.9375 -1.6875 149.9375 -2.2500 Q 149.9375 -2.7500 149.5938 -3.0156 Q 149.2500 -3.2969 148.1094 -3.5312 L 147.6719 -3.6406 Q 146.5312 -3.8750 146.0156 -4.3750 Q 145.5000 -4.8906 145.5000 -5.7812 Q 145.5000 -6.8281 146.2500 -7.4062 Q 147.0156 -8.0000 148.4062 -8.0000 Q 149.0938 -8.0000 149.7031 -7.8906 Q 150.3125 -7.7812 150.8281 -7.5781 Z M 163.6719 -9.5000 L 163.6719 -8.2031 Q 162.8750 -8.5625 162.1719 -8.7344 Q 161.4688 -8.9062 160.8125 -8.9062 Q 159.6719 -8.9062 159.0469 -8.4844 Q 158.4375 -8.0781 158.4375 -7.3281 Q 158.4375 -6.6875 158.8438 -6.3594 Q 159.2500 -6.0312 160.3906 -5.8438 L 161.2344 -5.6719 Q 162.7812 -5.4062 163.5156 -4.7031 Q 164.2500 -4.0000 164.2500 -2.8438 Q 164.2500 -1.4375 163.2656 -0.7188 Q 162.2812 -0.0000 160.3750 -0.0000 Q 159.6562 -0.0000 158.8438 -0.1562 Q 158.0312 -0.3281 157.1719 -0.6406 L 157.1719 -1.9844 Q 158.0156 -1.5469 158.8125 -1.3125 Q 159.6250 -1.0938 160.4062 -1.0938 Q 161.5938 -1.0938 162.2344 -1.5312 Q 162.8750 -1.9688 162.8750 -2.7812 Q 162.8750 -3.4844 162.4062 -3.8906 Q 161.9531 -4.2969 160.9062 -4.4844 L 160.0625 -4.6406 Q 158.5156 -4.9219 157.8125 -5.5469 Q 157.1250 -6.1719 157.1250 -7.2656 Q 157.1250 -8.5469 158.0781 -9.2656 Q 159.0312 -10.0000 160.6875 -10.0000 Q 161.4062 -10.0000 162.1406 -9.8750 Q 162.8906 -9.7500 163.6719 -9.5000 Z M 166.2500 -8.0000 L 167.5625 -8.0000 L 167.5625 -0.0000 L 166.2500 -0.0000 L 166.2500 -8.0000 Z M 166.2500 -11.0000 L 167.5625 -11.0000 L 167.5625 -9.9062 L 166.2500 -9.9062 L 166.2500 -11.0000 Z M 176.5000 -4.7188 L 176.5000 -0.0000 L 175.1875 -0.0000 L 175.1875 -4.6875 Q 175.1875 -5.8125 174.7812 -6.3594 Q 174.3750 -6.9062 173.5469 -6.9062 Q 172.5781 -6.9062 172.0000 -6.2500 Q 171.4375 -5.5938 171.4375 -4.4219 L 171.4375 -0.0000 L 170.1250 -0.0000 L 170.1250 -8.0000 L 171.4375 -8.0000 L 171.4375 -6.6250 Q 171.8906 -7.3125 172.4844 -7.6562 Q 173.0938 -8.0000 173.8750 -8.0000 Q 175.1719 -8.0000 175.8281 -7.1562 Q 176.5000 -6.3281 176.5000 -4.7188 Z M 184.3750 -7.5156 L 184.3750 -6.3281 Q 183.8438 -6.6094 183.3125 -6.7500 Q 182.7812 -6.9062 182.2500 -6.9062 Q 181.0312 -6.9062 180.3594 -6.1406 Q 179.6875 -5.3750 179.6875 -4.0000 Q 179.6875 -2.6250 180.3594 -1.8594 Q 181.0312 -1.0938 182.2500 -1.0938 Q 182.7812 -1.0938 183.3125 -1.2344 Q 183.8438 -1.3750 184.3750 -1.6719 L 184.3750 -0.5000 Q 183.8594 -0.2500 183.2969 -0.1250 Q 182.7344 -0.0000 182.1094 -0.0000 Q 180.3906 -0.0000 179.3750 -1.0781 Q 178.3750 -2.1562 178.3750 -4.0000 Q 178.3750 -5.8594 179.3906 -6.9219 Q 180.4219 -8.0000 182.1875 -8.0000 Q 182.7656 -8.0000 183.3125 -7.8750 Q 183.8594 -7.7500 184.3750 -7.5156 Z M 193.0625 -4.4531 L 193.0625 -3.8594 L 187.3125 -3.8594 Q 187.3125 -2.5000 188.0156 -1.7969 Q 188.7188 -1.0938 189.9844 -1.0938 Q 190.7188 -1.0938 191.3906 -1.2812 Q 192.0781 -1.4688 192.7656 -1.8281 L 192.7656 -0.6094 Q 192.0938 -0.3281 191.3750 -0.1562 Q 190.6719 -0.0000 189.9531 -0.0000 Q 188.1250 -0.0000 187.0625 -1.0625 Q 186.0000 -2.1250 186.0000 -3.9375 Q 186.0000 -5.8125 187.0000 -6.9062 Q 188.0156 -8.0000 189.7344 -8.0000 Q 191.2812 -8.0000 192.1719 -7.0469 Q 193.0625 -6.0938 193.0625 -4.4531 Z M 191.7500 -4.9531 Q 191.7500 -5.8438 191.1875 -6.3750 Q 190.6250 -6.9062 189.7031 -6.9062 Q 188.6719 -6.9062 188.0312 -6.3906 Q 187.4062 -5.8906 187.3125 -4.9531 L 191.7500 -4.9531 Z M 199.5000 -10.0000 L 201.5312 -10.0000 L 204.1250 -3.1875 L 206.7344 -10.0000 L 208.7500 -10.0000 L 208.7500 -0.0000 L 207.4375 -0.0000 L 207.4375 -8.7812 L 204.8125 -1.9219 L 203.4375 -1.9219 L 200.8125 -8.7812 L 200.8125 -0.0000 L 199.5000 -0.0000 L 199.5000 -10.0000 Z M 211.3750 -8.0000 L 212.6875 -8.0000 L 212.6875 -0.0000 L 211.3750 -0.0000 L 211.3750 -8.0000 Z M 211.3750 -11.0000 L 212.6875 -11.0000 L 212.6875 -9.9062 L 211.3750 -9.9062 L 211.3750 -11.0000 Z M 220.2500 -6.6250 L 220.2500 -11.0000 L 221.5625 -11.0000 L 221.5625 -0.0000 L 220.2500 -0.0000 L 220.2500 -1.3750 Q 219.8594 -0.6719 219.2656 -0.3281 Q 218.6719 -0.0000 217.8281 -0.0000 Q 216.4688 -0.0000 215.6094 -1.0938 Q 214.7500 -2.2031 214.7500 -4.0000 Q 214.7500 -5.7969 215.6094 -6.8906 Q 216.4688 -8.0000 217.8281 -8.0000 Q 218.6719 -8.0000 219.2656 -7.6562 Q 219.8594 -7.3281 220.2500 -6.6250 Z M 216.0625 -4.0000 Q 216.0625 -2.6406 216.6094 -1.8594 Q 217.1719 -1.0938 218.1562 -1.0938 Q 219.1250 -1.0938 219.6875 -1.8594 Q 220.2500 -2.6406 220.2500 -4.0000 Q 220.2500 -5.3594 219.6875 -6.1250 Q 219.1250 -6.9062 218.1562 -6.9062 Q 217.1719 -6.9062 216.6094 -6.1250 Q 216.0625 -5.3594 216.0625 -4.0000 Z M 230.5000 -4.7188 L 230.5000 -0.0000 L 229.1875 -0.0000 L 229.1875 -4.6875 Q 229.1875 -5.8125 228.7812 -6.3594 Q 228.3750 -6.9062 227.5469 -6.9062 Q 226.5781 -6.9062 226.0000 -6.2500 Q 225.4375 -5.5938 225.4375 -4.4219 L 225.4375 -0.0000 L 224.1250 -0.0000 L 224.1250 -8.0000 L 225.4375 -8.0000 L 225.4375 -6.6250 Q 225.8906 -7.3125 226.4844 -7.6562 Q 227.0938 -8.0000 227.8750 -8.0000 Q 229.1719 -8.0000 229.8281 -7.1562 Q 230.5000 -6.3281 230.5000 -4.7188 Z M 232.8750 -8.0000 L 234.1875 -8.0000 L 234.1875 -0.0000 L 232.8750 -0.0000 L 232.8750 -8.0000 Z M 232.8750 -11.0000 L 234.1875 -11.0000 L 234.1875 -9.9062 L 232.8750 -9.9062 L 232.8750 -11.0000 Z M 241.7500 -4.0000 Q 241.7500 -5.3906 241.2031 -6.1406 Q 240.6562 -6.9062 239.6562 -6.9062 Q 238.6719 -6.9062 238.1094 -6.1406 Q 237.5625 -5.3906 237.5625 -4.0000 Q 237.5625 -2.6094 238.1094 -1.8438 Q 238.6719 -1.0938 239.6562 -1.0938 Q 240.6562 -1.0938 241.2031 -1.8438 Q 241.7500 -2.6094 241.7500 -4.0000 Z M 243.0625 -1.0156 Q 243.0625 1.0156 242.2031 2.0000 Q 241.3438 3.0000 239.5625 3.0000 Q 238.9062 3.0000 238.3125 2.8906 Q 237.7344 2.7812 237.1875 2.5781 L 237.1875 1.3125 Q 237.7344 1.6250 238.2500 1.7656 Q 238.7812 1.9062 239.3281 1.9062 Q 240.5469 1.9062 241.1406 1.2500 Q 241.7500 0.5938 241.7500 -0.7500 L 241.7500 -1.3906 Q 241.3594 -0.7031 240.7656 -0.3438 Q 240.1719 -0.0000 239.3281 -0.0000 Q 237.9531 -0.0000 237.0938 -1.0938 Q 236.2500 -2.1875 236.2500 -4.0000 Q 236.2500 -5.8125 237.0938 -6.9062 Q 237.9531 -8.0000 239.3281 -8.0000 Q 240.1719 -8.0000 240.7656 -7.6562 Q 241.3594 -7.3125 241.7500 -6.6094 L 241.7500 -8.0000 L 243.0625 -8.0000 L 243.0625 -1.0156 Z M 252.0000 -4.7188 L 252.0000 -0.0000 L 250.6875 -0.0000 L 250.6875 -4.6875 Q 250.6875 -5.8125 250.2812 -6.3594 Q 249.8750 -6.9062 249.0469 -6.9062 Q 248.0781 -6.9062 247.5000 -6.2500 Q 246.9375 -5.5938 246.9375 -4.4219 L 246.9375 -0.0000 L 245.6250 -0.0000 L 245.6250 -11.0000 L 246.9375 -11.0000 L 246.9375 -6.6250 Q 247.3906 -7.3125 247.9844 -7.6562 Q 248.5938 -8.0000 249.3750 -8.0000 Q 250.6719 -8.0000 251.3281 -7.1562 Q 252.0000 -6.3281 252.0000 -4.7188 Z M 255.6875 -10.0000 L 255.6875 -8.0000 L 258.2500 -8.0000 L 258.2500 -6.9062 L 255.6875 -6.9062 L 255.6875 -2.6094 Q 255.6875 -1.6406 255.9375 -1.3594 Q 256.2031 -1.0781 256.9688 -1.0781 L 258.2500 -1.0781 L 258.2500 -0.0000 L 256.9531 -0.0000 Q 255.4844 -0.0000 254.9219 -0.5625 Q 254.3750 -1.1250 254.3750 -2.6094 L 254.3750 -6.9062 L 253.5000 -6.9062 L 253.5000 -8.0000 L 254.3750 -8.0000 L 254.3750 -10.0000 L 255.6875 -10.0000 Z M 259.7188 -11.0000 L 260.7969 -11.0000 Q 261.8125 -9.3906 262.3125 -7.8281 Q 262.8125 -6.2812 262.8125 -4.7500 Q 262.8125 -3.2188 262.3125 -1.6562 Q 261.8125 -0.0938 260.7969 1.5000 L 259.7188 1.5000 Q 260.6094 -0.0625 261.0469 -1.6094 Q 261.5000 -3.1719 261.5000 -4.7500 Q 261.5000 -6.3438 261.0469 -7.8906 Q 260.6094 -9.4375 259.7188 -11.0000 Z" fill="#000000"/></g>
</g>
<g id="matplotlib.axis_2">
<g id="ytick_1">
<g id="line2d_19">
<rect x="90" y="448.52" width="558" height="0.8" fill="#b0b0b0"/>
</g>
<g id="line2d_20">
<defs>
<path id="m9bfba77ee1" d="M 0 0 L -3.6 0" style="stroke: #000000; stroke-width: 0.8"/>
</defs>
<g>
<use href="#m9bfba77ee1" x="90.36" y="448.92" style="stroke: #000000; stroke-width: 0.8"/>
</g>
</g>
<g id="text_11"><path transform="scale(0.72) translate(107 628)" d="M 4.3438 -8.9062 Q 3.2656 -8.9062 2.7188 -7.9219 Q 2.1875 -6.9531 2.1875 -5.0000 Q 2.1875 -3.0469 2.7188 -2.0625 Q 3.2656 -1.0938 4.3438 -1.0938 Q 5.4219 -1.0938 5.9531 -2.0625 Q 6.5000 -3.0469 6.5000 -5.0000 Q 6.5000 -6.9531 5.9531 -7.9219 Q 5.4219 -8.9062 4.3438 -8.9062 Z M 4.3438 -10.0000 Q 6.0312 -10.0000 6.9219 -8.7188 Q 7.8125 -7.4375 7.8125 -5.0000 Q 7.8125 -2.5625 6.9219 -1.2812 Q 6.0312 -0.0000 4.3438 -0.0000 Q 2.6562 -0.0000 1.7656 -1.2812 Q 0.8750 -2.5625 0.8750 -5.0000 Q 0.8750 -7.4375 1.7656 -8.7188 Q 2.6562 -10.0000 4.3438 -10.0000 Z" fill="#000000"/></g>
</g>
<g id="ytick_2">
<g id="line2d_21">
<rect x="90" y="370.76" width="558" height="0.8" fill="#b0b0b0"/>
</g>
<g id="line2d_22">
<g>
<use href="#m9bfba77ee1" x="90.36" y="371.16" style="stroke: #000000; stroke-width: 0.8"/>
</g>
</g>
<g id="text_12"><path transform="scale(0.72) translate(98 521)" d="M 2.6562 -1.0938 L 7.3750 -1.0938 L 7.3750 -0.0000 L 1.0000 -0.0000 L 1.0000 -1.0938 Q 1.7812 -1.8750 3.1250 -3.2031 Q 4.4688 -4.5469 4.8125 -4.9219 Q 5.4844 -5.6406 5.7344 -6.1406 Q 6.0000 -6.6562 6.0000 -7.1250 Q 6.0000 -7.9062 5.4375 -8.4062 Q 4.8750 -8.9062 3.9531 -8.9062 Q 3.3125 -8.9062 2.5938 -8.6875 Q 1.8750 -8.4688 1.0625 -8.0312 L 1.0625 -9.3594 Q 1.8906 -9.6875 2.5938 -9.8438 Q 3.3125 -10.0000 3.9062 -10.0000 Q 5.4688 -10.0000 6.3906 -9.2344 Q 7.3125 -8.4688 7.3125 -7.1875 Q 7.3125 -6.5781 7.0781 -6.0312 Q 6.8594 -5.4844 6.2500 -4.7656 Q 6.0781 -4.5781 5.1719 -3.6562 Q 4.2812 -2.7344 2.6562 -1.0938 Z M 13.0938 -8.9062 Q 12.0156 -8.9062 11.4688 -7.9219 Q 10.9375 -6.9531 10.9375 -5.0000 Q 10.9375 -3.0469 11.4688 -2.0625 Q 12.0156 -1.0938 13.0938 -1.0938 Q 14.1719 -1.0938 14.7031 -2.0625 Q 15.2500 -3.0469 15.2500 -5.0000 Q 15.2500 -6.9531 14.7031 -7.9219 Q 14.1719 -8.9062 13.0938 -8.9062 Z M 13.0938 -10.0000 Q 14.7812 -10.0000 15.6719 -8.7188 Q 16.5625 -7.4375 16.5625 -5.0000 Q 16.5625 -2.5625 15.6719 -1.2812 Q 14.7812 -0.0000 13.0938 -0.0000 Q 11.4062 -0.0000 10.5156 -1.2812 Q 9.6250 -2.5625 9.6250 -5.0000 Q 9.6250 -7.4375 10.5156 -8.7188 Q 11.4062 -10.0000 13.0938 -10.0000 Z" fill="#000000"/></g>
</g>
<g id="ytick_3">
<g id="line2d_23">
<rect x="90" y="293" width="558" height="0.8" fill="#b0b0b0"/>
</g>
<g id="line2d_24">
<g>
<use href="#m9bfba77ee1" x="90.36" y="293.4" style="stroke: #000000; stroke-width: 0.8"/>
</g>
</g>
<g id="text_13"><path transform="scale(0.72) translate(98 413)" d="M 5.2500 -8.9062 L 1.7969 -3.9844 L 5.2500 -3.9844 L 5.2500 -8.9062 Z M 4.8906 -10.0000 L 6.5625 -10.0000 L 6.5625 -3.9844 L 8.0156 -3.9844 L 8.0156 -2.8281 L 6.5625 -2.8281 L 6.5625 -0.0000 L 5.2500 -0.0000 L 5.2500 -2.8281 L 0.6875 -2.8281 L 0.6875 -4.1562 L 4.8906 -10.0000 Z M 12.0938 -8.9062 Q 11.0156 -8.9062 10.4688 -7.9219 Q 9.9375 -6.9531 9.9375 -5.0000 Q 9.9375 -3.0469 10.4688 -2.0625 Q 11.0156 -1.0938 12.0938 -1.0938 Q 13.1719 -1.0938 13.7031 -2.0625 Q 14.2500 -3.0469 14.2500 -5.0000 Q 14.2500 -6.9531 13.7031 -7.9219 Q 13.1719 -8.9062 12.0938 -8.9062 Z M 12.0938 -10.0000 Q 13.7812 -10.0000 14.6719 -8.7188 Q 15.5625 -7.4375 15.5625 -5.0000 Q 15.5625 -2.5625 14.6719 -1.2812 Q 13.7812 -0.0000 12.0938 -0.0000 Q 10.4062 -0.0000 9.5156 -1.2812 Q 8.6250 -2.5625 8.6250 -5.0000 Q 8.6250 -7.4375 9.5156 -8.7188 Q 10.4062 -10.0000 12.0938 -10.0000 Z" fill="#000000"/></g>
</g>
<g id="ytick_4">
<g id="line2d_25">
<rect x="90" y="215.96" width="558" height="0.8" fill="#b0b0b0"/>
</g>
<g id="line2d_26">
<g>
<use href="#m9bfba77ee1" x="90.36" y="216.36" style="stroke: #000000; stroke-width: 0.8"/>
</g>
</g>
<g id="text_14"><path transform="scale(0.72) translate(98 305)" d="M 4.6094 -5.8594 Q 3.6719 -5.8594 3.1250 -5.2188 Q 2.5781 -4.5938 2.5781 -3.4844 Q 2.5781 -2.3750 3.1250 -1.7344 Q 3.6719 -1.0938 4.6094 -1.0938 Q 5.5312 -1.0938 6.0781 -1.7344 Q 6.6250 -2.3750 6.6250 -3.4844 Q 6.6250 -4.5938 6.0781 -5.2188 Q 5.5312 -5.8594 4.6094 -5.8594 Z M 7.3125 -9.6094 L 7.3125 -8.5156 Q 6.7969 -8.7031 6.2500 -8.7969 Q 5.7188 -8.9062 5.2031 -8.9062 Q 3.8281 -8.9062 3.0938 -8.1094 Q 2.3750 -7.3281 2.3750 -5.7188 Q 2.7656 -6.3281 3.3594 -6.6406 Q 3.9688 -6.9531 4.6875 -6.9531 Q 6.1875 -6.9531 7.0625 -6.0156 Q 7.9375 -5.0938 7.9375 -3.4844 Q 7.9375 -1.9062 7.0156 -0.9531 Q 6.1094 -0.0000 4.5938 -0.0000 Q 2.8438 -0.0000 1.9219 -1.2812 Q 1.0000 -2.5625 1.0000 -5.0000 Q 1.0000 -7.2812 2.1250 -8.6406 Q 3.2656 -10.0000 5.1875 -10.0000 Q 5.7031 -10.0000 6.2188 -9.9062 Q 6.7500 -9.8125 7.3125 -9.6094 Z M 13.2188 -8.9062 Q 12.1406 -8.9062 11.5938 -7.9219 Q 11.0625 -6.9531 11.0625 -5.0000 Q 11.0625 -3.0469 11.5938 -2.0625 Q 12.1406 -1.0938 13.2188 -1.0938 Q 14.2969 -1.0938 14.8281 -2.0625 Q 15.3750 -3.0469 15.3750 -5.0000 Q 15.3750 -6.9531 14.8281 -7.9219 Q 14.2969 -8.9062 13.2188 -8.9062 Z M 13.2188 -10.0000 Q 14.9062 -10.0000 15.7969 -8.7188 Q 16.6875 -7.4375 16.6875 -5.0000 Q 16.6875 -2.5625 15.7969 -1.2812 Q 14.9062 -0.0000 13.2188 -0.0000 Q 11.5312 -0.0000 10.6406 -1.2812 Q 9.7500 -2.5625 9.7500 -5.0000 Q 9.7500 -7.4375 10.6406 -8.7188 Q 11.5312 -10.0000 13.2188 -10.0000 Z" fill="#000000"/></g>
</g>
<g id="ytick_5">
<g id="line2d_27">
<rect x="90" y="138.2" width="558" height="0.8" fill="#b0b0b0"/>
</g>
<g id="line2d_28">
<g>
<use href="#m9bfba77ee1" x="90.36" y="138.6" style="stroke: #000000; stroke-width: 0.8"/>
</g>
</g>
<g id="text_15"><path transform="scale(0.72) translate(98 197)" d="M 4.4688 -4.8594 Q 3.4688 -4.8594 2.8906 -4.3594 Q 2.3125 -3.8594 2.3125 -2.9844 Q 2.3125 -2.0938 2.8906 -1.5938 Q 3.4688 -1.0938 4.4688 -1.0938 Q 5.4688 -1.0938 6.0469 -1.5938 Q 6.6250 -2.1094 6.6250 -2.9844 Q 6.6250 -3.8594 6.0469 -4.3594 Q 5.4844 -4.8594 4.4688 -4.8594 Z M 3.1094 -5.3281 Q 2.2344 -5.5312 1.7344 -6.0938 Q 1.2500 -6.6719 1.2500 -7.5156 Q 1.2500 -8.6562 2.1094 -9.3281 Q 2.9688 -10.0000 4.4688 -10.0000 Q 5.9688 -10.0000 6.8281 -9.3438 Q 7.6875 -8.6875 7.6875 -7.5781 Q 7.6875 -6.7656 7.2031 -6.2031 Q 6.7188 -5.6562 5.8594 -5.4531 Q 6.8438 -5.2344 7.3906 -4.5625 Q 7.9375 -3.9062 7.9375 -2.9688 Q 7.9375 -1.5469 7.0312 -0.7656 Q 6.1406 -0.0000 4.4688 -0.0000 Q 2.7969 -0.0000 1.8906 -0.7500 Q 1.0000 -1.5000 1.0000 -2.8906 Q 1.0000 -3.8281 1.5625 -4.4688 Q 2.1250 -5.1094 3.1094 -5.3281 Z M 2.5625 -7.4219 Q 2.5625 -6.7344 3.0625 -6.3438 Q 3.5625 -5.9531 4.4688 -5.9531 Q 5.3594 -5.9531 5.8594 -6.3438 Q 6.3750 -6.7344 6.3750 -7.4219 Q 6.3750 -8.1250 5.8594 -8.5156 Q 5.3594 -8.9062 4.4688 -8.9062 Q 3.5625 -8.9062 3.0625 -8.5156 Q 2.5625 -8.1250 2.5625 -7.4219 Z M 13.2188 -8.9062 Q 12.1406 -8.9062 11.5938 -7.9219 Q 11.0625 -6.9531 11.0625 -5.0000 Q 11.0625 -3.0469 11.5938 -2.0625 Q 12.1406 -1.0938 13.2188 -1.0938 Q 14.2969 -1.0938 14.8281 -2.0625 Q 15.3750 -3.0469 15.3750 -5.0000 Q 15.3750 -6.9531 14.8281 -7.9219 Q 14.2969 -8.9062 13.2188 -8.9062 Z M 13.2188 -10.0000 Q 14.9062 -10.0000 15.7969 -8.7188 Q 16.6875 -7.4375 16.6875 -5.0000 Q 16.6875 -2.5625 15.7969 -1.2812 Q 14.9062 -0.0000 13.2188 -0.0000 Q 11.5312 -0.0000 10.6406 -1.2812 Q 9.7500 -2.5625 9.7500 -5.0000 Q 9.7500 -7.4375 10.6406 -8.7188 Q 11.5312 -10.0000 13.2188 -10.0000 Z" fill="#000000"/></g>
</g>
<g id="ytick_6">
<g id="line2d_29">
<rect x="90" y="60.44" width="558" height="0.8" fill="#b0b0b0"/>
</g>
<g id="line2d_30">
<g>
<use href="#m9bfba77ee1" x="90.36" y="60.84" style="stroke: #000000; stroke-width: 0.8"/>
</g>
</g>
<g id="text_16"><path transform="scale(0.72) translate(89 90)" d="M 1.7500 -1.1875 L 4.0000 -1.1875 L 4.0000 -8.7812 L 1.5625 -8.2969 L 1.5625 -9.5156 L 3.9844 -10.0000 L 5.3125 -10.0000 L 5.3125 -1.1875 L 7.6250 -1.1875 L 7.6250 -0.0000 L 1.7500 -0.0000 L 1.7500 -1.1875 Z M 12.2188 -8.9062 Q 11.1406 -8.9062 10.5938 -7.9219 Q 10.0625 -6.9531 10.0625 -5.0000 Q 10.0625 -3.0469 10.5938 -2.0625 Q 11.1406 -1.0938 12.2188 -1.0938 Q 13.2969 -1.0938 13.8281 -2.0625 Q 14.3750 -3.0469 14.3750 -5.0000 Q 14.3750 -6.9531 13.8281 -7.9219 Q 13.2969 -8.9062 12.2188 -8.9062 Z M 12.2188 -10.0000 Q 13.9062 -10.0000 14.7969 -8.7188 Q 15.6875 -7.4375 15.6875 -5.0000 Q 15.6875 -2.5625 14.7969 -1.2812 Q 13.9062 -0.0000 12.2188 -0.0000 Q 10.5312 -0.0000 9.6406 -1.2812 Q 8.7500 -2.5625 8.7500 -5.0000 Q 8.7500 -7.4375 9.6406 -8.7188 Q 10.5312 -10.0000 12.2188 -10.0000 Z M 20.9688 -8.9062 Q 19.8906 -8.9062 19.3438 -7.9219 Q 18.8125 -6.9531 18.8125 -5.0000 Q 18.8125 -3.0469 19.3438 -2.0625 Q 19.8906 -1.0938 20.9688 -1.0938 Q 22.0469 -1.0938 22.5781 -2.0625 Q 23.1250 -3.0469 23.1250 -5.0000 Q 23.1250 -6.9531 22.5781 -7.9219 Q 22.0469 -8.9062 20.9688 -8.9062 Z M 20.9688 -10.0000 Q 22.6562 -10.0000 23.5469 -8.7188 Q 24.4375 -7.4375 24.4375 -5.0000 Q 24.4375 -2.5625 23.5469 -1.2812 Q 22.6562 -0.0000 20.9688 -0.0000 Q 19.2812 -0.0000 18.3906 -1.2812 Q 17.5000 -2.5625 17.5000 -5.0000 Q 17.5000 -7.4375 18.3906 -8.7188 Q 19.2812 -10.0000 20.9688 -10.0000 Z" fill="#000000"/></g>
</g>
<g id="text_17"><path transform="scale(0.72) translate(79 434) rotate(-90)" d="M 5.4375 -8.9062 Q 3.9844 -8.9062 3.1094 -7.8594 Q 2.2500 -6.8125 2.2500 -5.0000 Q 2.2500 -3.2031 3.1094 -2.1406 Q 3.9844 -1.0938 5.4375 -1.0938 Q 6.9062 -1.0938 7.7656 -2.1406 Q 8.6250 -3.2031 8.6250 -5.0000 Q 8.6250 -6.8125 7.7656 -7.8594 Q 6.9062 -8.9062 5.4375 -8.9062 Z M 5.4375 -10.0000 Q 7.5781 -10.0000 8.8438 -8.6406 Q 10.1250 -7.2812 10.1250 -5.0000 Q 10.1250 -2.7188 8.8438 -1.3594 Q 7.5781 -0.0000 5.4375 -0.0000 Q 3.3125 -0.0000 2.0312 -1.3438 Q 0.7500 -2.7031 0.7500 -5.0000 Q 0.7500 -7.2812 2.0312 -8.6406 Q 3.3125 -10.0000 5.4375 -10.0000 Z M 17.6250 -7.5156 L 17.6250 -6.3281 Q 17.0938 -6.6094 16.5625 -6.7500 Q 16.0312 -6.9062 15.5000 -6.9062 Q 14.2812 -6.9062 13.6094 -6.1406 Q 12.9375 -5.3750 12.9375 -4.0000 Q 12.9375 -2.6250 13.6094 -1.8594 Q 14.2812 -1.0938 15.5000 -1.0938 Q 16.0312 -1.0938 16.5625 -1.2344 Q 17.0938 -1.3750 17.6250 -1.6719 L 17.6250 -0.5000 Q 17.1094 -0.2500 16.5469 -0.1250 Q 15.9844 -0.0000 15.3594 -0.0000 Q 13.6406 -0.0000 12.6250 -1.0781 Q 11.6250 -2.1562 11.6250 -4.0000 Q 11.6250 -5.8594 12.6406 -6.9219 Q 13.6719 -8.0000 15.4375 -8.0000 Q 16.0156 -8.0000 16.5625 -7.8750 Q 17.1094 -7.7500 17.6250 -7.5156 Z M 25.2500 -7.5156 L 25.2500 -6.3281 Q 24.7188 -6.6094 24.1875 -6.7500 Q 23.6562 -6.9062 23.1250 -6.9062 Q 21.9062 -6.9062 21.2344 -6.1406 Q 20.5625 -5.3750 20.5625 -4.0000 Q 20.5625 -2.6250 21.2344 -1.8594 Q 21.9062 -1.0938 23.1250 -1.0938 Q 23.6562 -1.0938 24.1875 -1.2344 Q 24.7188 -1.3750 25.2500 -1.6719 L 25.2500 -0.5000 Q 24.7344 -0.2500 24.1719 -0.1250 Q 23.6094 -0.0000 22.9844 -0.0000 Q 21.2656 -0.0000 20.2500 -1.0781 Q 19.2500 -2.1562 19.2500 -4.0000 Q 19.2500 -5.8594 20.2656 -6.9219 Q 21.2969 -8.0000 23.0625 -8.0000 Q 23.6406 -8.0000 24.1875 -7.8750 Q 24.7344 -7.7500 25.2500 -7.5156 Z M 27.2500 -3.2812 L 27.2500 -8.0000 L 28.5625 -8.0000 L 28.5625 -3.3125 Q 28.5625 -2.2031 28.9688 -1.6406 Q 29.3750 -1.0938 30.1875 -1.0938 Q 31.1719 -1.0938 31.7344 -1.7500 Q 32.3125 -2.4219 32.3125 -3.5625 L 32.3125 -8.0000 L 33.6250 -8.0000 L 33.6250 -0.0000 L 32.3125 -0.0000 L 32.3125 -1.3750 Q 31.8594 -0.6719 31.2656 -0.3281 Q 30.6719 -0.0000 29.8906 -0.0000 Q 28.5938 -0.0000 27.9219 -0.8281 Q 27.2500 -1.6719 27.2500 -3.2812 Z M 30.4375 -8.0000 L 30.4375 -8.0000 Z M 37.4375 -1.3750 L 37.4375 3.0000 L 36.1250 3.0000 L 36.1250 -8.0000 L 37.4375 -8.0000 L 37.4375 -6.6250 Q 37.8281 -7.3281 38.4219 -7.6562 Q 39.0156 -8.0000 39.8438 -8.0000 Q 41.2188 -8.0000 42.0781 -6.8906 Q 42.9375 -5.7969 42.9375 -4.0000 Q 42.9375 -2.2031 42.0781 -1.0938 Q 41.2188 -0.0000 39.8438 -0.0000 Q 39.0156 -0.0000 38.4219 -0.3281 Q 37.8281 -0.6719 37.4375 -1.3750 Z M 41.6250 -4.0000 Q 41.6250 -5.3594 41.0625 -6.1250 Q 40.5156 -6.9062 39.5312 -6.9062 Q 38.5625 -6.9062 38.0000 -6.1250 Q 37.4375 -5.3594 37.4375 -4.0000 Q 37.4375 -2.6406 38.0000 -1.8594 Q 38.5625 -1.0938 39.5312 -1.0938 Q 40.5156 -1.0938 41.0625 -1.8594 Q 41.6250 -2.6406 41.6250 -4.0000 Z M 48.5469 -3.8594 Q 47.0781 -3.8594 46.5000 -3.5312 Q 45.9375 -3.2188 45.9375 -2.4375 Q 45.9375 -1.8125 46.3594 -1.4531 Q 46.7969 -1.0938 47.5156 -1.0938 Q 48.5312 -1.0938 49.1406 -1.7812 Q 49.7500 -2.4688 49.7500 -3.6094 L 49.7500 -3.8594 L 48.5469 -3.8594 Z M 51.0625 -4.4531 L 51.0625 -0.0000 L 49.7500 -0.0000 L 49.7500 -1.3750 Q 49.3281 -0.6719 48.6875 -0.3281 Q 48.0625 -0.0000 47.1406 -0.0000 Q 45.9844 -0.0000 45.2969 -0.6406 Q 44.6250 -1.2969 44.6250 -2.3906 Q 44.6250 -3.6719 45.4688 -4.3125 Q 46.3281 -4.9531 48.0156 -4.9531 L 49.7500 -4.9531 L 49.7500 -5.0938 Q 49.7500 -5.9531 49.1875 -6.4219 Q 48.6406 -6.9062 47.6250 -6.9062 Q 46.9844 -6.9062 46.3750 -6.7500 Q 45.7656 -6.5938 45.2188 -6.2812 L 45.2188 -7.4531 Q 45.8906 -7.7188 46.5312 -7.8594 Q 47.1875 -8.0000 47.7969 -8.0000 Q 49.4375 -8.0000 50.2500 -7.1094 Q 51.0625 -6.2344 51.0625 -4.4531 Z M 60.0000 -4.7188 L 60.0000 -0.0000 L 58.6875 -0.0000 L 58.6875 -4.6875 Q 58.6875 -5.8125 58.2812 -6.3594 Q 57.8750 -6.9062 57.0469 -6.9062 Q 56.0781 -6.9062 55.5000 -6.2500 Q 54.9375 -5.5938 54.9375 -4.4219 L 54.9375 -0.0000 L 53.6250 -0.0000 L 53.6250 -8.0000 L 54.9375 -8.0000 L 54.9375 -6.6250 Q 55.3906 -7.3125 55.9844 -7.6562 Q 56.5938 -8.0000 57.3750 -8.0000 Q 58.6719 -8.0000 59.3281 -7.1562 Q 60.0000 -6.3281 60.0000 -4.7188 Z M 67.8750 -7.5156 L 67.8750 -6.3281 Q 67.3438 -6.6094 66.8125 -6.7500 Q 66.2812 -6.9062 65.7500 -6.9062 Q 64.5312 -6.9062 63.8594 -6.1406 Q 63.1875 -5.3750 63.1875 -4.0000 Q 63.1875 -2.6250 63.8594 -1.8594 Q 64.5312 -1.0938 65.7500 -1.0938 Q 66.2812 -1.0938 66.8125 -1.2344 Q 67.3438 -1.3750 67.8750 -1.6719 L 67.8750 -0.5000 Q 67.3594 -0.2500 66.7969 -0.1250 Q 66.2344 -0.0000 65.6094 -0.0000 Q 63.8906 -0.0000 62.8750 -1.0781 Q 61.8750 -2.1562 61.8750 -4.0000 Q 61.8750 -5.8594 62.8906 -6.9219 Q 63.9219 -8.0000 65.6875 -8.0000 Q 66.2656 -8.0000 66.8125 -7.8750 Q 67.3594 -7.7500 67.8750 -7.5156 Z M 73.2500 0.7031 Q 72.7188 2.1406 72.2188 2.5625 Q 71.7188 3.0000 70.8750 3.0000 L 69.8750 3.0000 L 69.8750 1.9219 L 70.6094 1.9219 Q 71.1250 1.9219 71.4062 1.6562 Q 71.6875 1.4062 72.0312 0.4531 L 72.2656 -0.1406 L 69.1875 -8.0000 L 70.5156 -8.0000 L 72.8906 -1.7500 L 75.2500 -8.0000 L 76.5781 -8.0000 L 73.2500 0.7031 Z M 84.0625 -8.9062 L 84.0625 -4.9531 L 85.7656 -4.9531 Q 86.7188 -4.9531 87.2344 -5.4688 Q 87.7500 -5.9844 87.7500 -6.9219 Q 87.7500 -7.8750 87.2344 -8.3906 Q 86.7188 -8.9062 85.7656 -8.9062 L 84.0625 -8.9062 Z M 82.7500 -10.0000 L 85.8281 -10.0000 Q 87.5156 -10.0000 88.3750 -9.2188 Q 89.2500 -8.4375 89.2500 -6.9375 Q 89.2500 -5.4219 88.3750 -4.6406 Q 87.5000 -3.8594 85.7969 -3.8594 L 84.0625 -3.8594 L 84.0625 -0.0000 L 82.7500 -0.0000 L 82.7500 -10.0000 Z M 97.0625 -4.4531 L 97.0625 -3.8594 L 91.3125 -3.8594 Q 91.3125 -2.5000 92.0156 -1.7969 Q 92.7188 -1.0938 93.9844 -1.0938 Q 94.7188 -1.0938 95.3906 -1.2812 Q 96.0781 -1.4688 96.7656 -1.8281 L 96.7656 -0.6094 Q 96.0938 -0.3281 95.3750 -0.1562 Q 94.6719 -0.0000 93.9531 -0.0000 Q 92.1250 -0.0000 91.0625 -1.0625 Q 90.0000 -2.1250 90.0000 -3.9375 Q 90.0000 -5.8125 91.0000 -6.9062 Q 92.0156 -8.0000 93.7344 -8.0000 Q 95.2812 -8.0000 96.1719 -7.0469 Q 97.0625 -6.0938 97.0625 -4.4531 Z M 95.7500 -4.9531 Q 95.7500 -5.8438 95.1875 -6.3750 Q 94.6250 -6.9062 93.7031 -6.9062 Q 92.6719 -6.9062 92.0312 -6.3906 Q 91.4062 -5.8906 91.3125 -4.9531 L 95.7500 -4.9531 Z M 103.5000 -6.6562 Q 103.2969 -6.7812 103.0469 -6.8438 Q 102.7969 -6.9062 102.5000 -6.9062 Q 101.4531 -6.9062 100.8750 -6.1875 Q 100.3125 -5.4688 100.3125 -4.1406 L 100.3125 -0.0000 L 99.0000 -0.0000 L 99.0000 -8.0000 L 100.3125 -8.0000 L 100.3125 -6.6406 Q 100.7031 -7.3281 101.3281 -7.6562 Q 101.9688 -8.0000 102.8750 -8.0000 Q 103.0000 -8.0000 103.1562 -8.0156 Q 103.3125 -8.0469 103.5000 -8.1094 L 103.5000 -6.6562 Z M 110.0000 -7.5156 L 110.0000 -6.3281 Q 109.4688 -6.6094 108.9375 -6.7500 Q 108.4062 -6.9062 107.8750 -6.9062 Q 106.6562 -6.9062 105.9844 -6.1406 Q 105.3125 -5.3750 105.3125 -4.0000 Q 105.3125 -2.6250 105.9844 -1.8594 Q 106.6562 -1.0938 107.8750 -1.0938 Q 108.4062 -1.0938 108.9375 -1.2344 Q 109.4688 -1.3750 110.0000 -1.6719 L 110.0000 -0.5000 Q 109.4844 -0.2500 108.9219 -0.1250 Q 108.3594 -0.0000 107.7344 -0.0000 Q 106.0156 -0.0000 105.0000 -1.0781 Q 104.0000 -2.1562 104.0000 -4.0000 Q 104.0000 -5.8594 105.0156 -6.9219 Q 106.0469 -8.0000 107.8125 -8.0000 Q 108.3906 -8.0000 108.9375 -7.8750 Q 109.4844 -7.7500 110.0000 -7.5156 Z M 118.6875 -4.4531 L 118.6875 -3.8594 L 112.9375 -3.8594 Q 112.9375 -2.5000 113.6406 -1.7969 Q 114.3438 -1.0938 115.6094 -1.0938 Q 116.3438 -1.0938 117.0156 -1.2812 Q 117.7031 -1.4688 118.3906 -1.8281 L 118.3906 -0.6094 Q 117.7188 -0.3281 117.0000 -0.1562 Q 116.2969 -0.0000 115.5781 -0.0000 Q 113.7500 -0.0000 112.6875 -1.0625 Q 111.6250 -2.1250 111.6250 -3.9375 Q 111.6250 -5.8125 112.6250 -6.9062 Q 113.6406 -8.0000 115.3594 -8.0000 Q 116.9062 -8.0000 117.7969 -7.0469 Q 118.6875 -6.0938 118.6875 -4.4531 Z M 117.3750 -4.9531 Q 117.3750 -5.8438 116.8125 -6.3750 Q 116.2500 -6.9062 115.3281 -6.9062 Q 114.2969 -6.9062 113.6562 -6.3906 Q 113.0312 -5.8906 112.9375 -4.9531 L 117.3750 -4.9531 Z M 127.0000 -4.7188 L 127.0000 -0.0000 L 125.6875 -0.0000 L 125.6875 -4.6875 Q 125.6875 -5.8125 125.2812 -6.3594 Q 124.8750 -6.9062 124.0469 -6.9062 Q 123.0781 -6.9062 122.5000 -6.2500 Q 121.9375 -5.5938 121.9375 -4.4219 L 121.9375 -0.0000 L 120.6250 -0.0000 L 120.6250 -8.0000 L 121.9375 -8.0000 L 121.9375 -6.6250 Q 122.3906 -7.3125 122.9844 -7.6562 Q 123.5938 -8.0000 124.3750 -8.0000 Q 125.6719 -8.0000 126.3281 -7.1562 Q 127.0000 -6.3281 127.0000 -4.7188 Z M 130.6875 -10.0000 L 130.6875 -8.0000 L 133.2500 -8.0000 L 133.2500 -6.9062 L 130.6875 -6.9062 L 130.6875 -2.6094 Q 130.6875 -1.6406 130.9375 -1.3594 Q 131.2031 -1.0781 131.9688 -1.0781 L 133.2500 -1.0781 L 133.2500 -0.0000 L 131.9531 -0.0000 Q 130.4844 -0.0000 129.9219 -0.5625 Q 129.3750 -1.1250 129.3750 -2.6094 L 129.3750 -6.9062 L 128.5000 -6.9062 L 128.5000 -8.0000 L 129.3750 -8.0000 L 129.3750 -10.0000 L 130.6875 -10.0000 Z M 138.4219 -3.8594 Q 136.9531 -3.8594 136.3750 -3.5312 Q 135.8125 -3.2188 135.8125 -2.4375 Q 135.8125 -1.8125 136.2344 -1.4531 Q 136.6719 -1.0938 137.3906 -1.0938 Q 138.4062 -1.0938 139.0156 -1.7812 Q 139.6250 -2.4688 139.6250 -3.6094 L 139.6250 -3.8594 L 138.4219 -3.8594 Z M 140.9375 -4.4531 L 140.9375 -0.0000 L 139.6250 -0.0000 L 139.6250 -1.3750 Q 139.2031 -0.6719 138.5625 -0.3281 Q 137.9375 -0.0000 137.0156 -0.0000 Q 135.8594 -0.0000 135.1719 -0.6406 Q 134.5000 -1.2969 134.5000 -2.3906 Q 134.5000 -3.6719 135.3438 -4.3125 Q 136.2031 -4.9531 137.8906 -4.9531 L 139.6250 -4.9531 L 139.6250 -5.0938 Q 139.6250 -5.9531 139.0625 -6.4219 Q 138.5156 -6.9062 137.5000 -6.9062 Q 136.8594 -6.9062 136.2500 -6.7500 Q 135.6406 -6.5938 135.0938 -6.2812 L 135.0938 -7.4531 Q 135.7656 -7.7188 136.4062 -7.8594 Q 137.0625 -8.0000 137.6719 -8.0000 Q 139.3125 -8.0000 140.1250 -7.1094 Q 140.9375 -6.2344 140.9375 -4.4531 Z M 148.5000 -4.0000 Q 148.5000 -5.3906 147.9531 -6.1406 Q 147.4062 -6.9062 146.4062 -6.9062 Q 145.4219 -6.9062 144.8594 -6.1406 Q 144.3125 -5.3906 144.3125 -4.0000 Q 144.3125 -2.6094 144.8594 -1.8438 Q 145.4219 -1.0938 146.4062 -1.0938 Q 147.4062 -1.0938 147.9531 -1.8438 Q 148.5000 -2.6094 148.5000 -4.0000 Z M 149.8125 -1.0156 Q 149.8125 1.0156 148.9531 2.0000 Q 148.0938 3.0000 146.3125 3.0000 Q 145.6562 3.0000 145.0625 2.8906 Q 144.4844 2.7812 143.9375 2.5781 L 143.9375 1.3125 Q 144.4844 1.6250 145.0000 1.7656 Q 145.5312 1.9062 146.0781 1.9062 Q 147.2969 1.9062 147.8906 1.2500 Q 148.5000 0.5938 148.5000 -0.7500 L 148.5000 -1.3906 Q 148.1094 -0.7031 147.5156 -0.3438 Q 146.9219 -0.0000 146.0781 -0.0000 Q 144.7031 -0.0000 143.8438 -1.0938 Q 143.0000 -2.1875 143.0000 -4.0000 Q 143.0000 -5.8125 143.8438 -6.9062 Q 144.7031 -8.0000 146.0781 -8.0000 Q 146.9219 -8.0000 147.5156 -7.6562 Q 148.1094 -7.3125 148.5000 -6.6094 L 148.5000 -8.0000 L 149.8125 -8.0000 L 149.8125 -1.0156 Z M 158.9375 -4.4531 L 158.9375 -3.8594 L 153.1875 -3.8594 Q 153.1875 -2.5000 153.8906 -1.7969 Q 154.5938 -1.0938 155.8594 -1.0938 Q 156.5938 -1.0938 157.2656 -1.2812 Q 157.9531 -1.4688 158.6406 -1.8281 L 158.6406 -0.6094 Q 157.9688 -0.3281 157.2500 -0.1562 Q 156.5469 -0.0000 155.8281 -0.0000 Q 154.0000 -0.0000 152.9375 -1.0625 Q 151.8750 -2.1250 151.8750 -3.9375 Q 151.8750 -5.8125 152.8750 -6.9062 Q 153.8906 -8.0000 155.6094 -8.0000 Q 157.1562 -8.0000 158.0469 -7.0469 Q 158.9375 -6.0938 158.9375 -4.4531 Z M 157.6250 -4.9531 Q 157.6250 -5.8438 157.0625 -6.3750 Q 156.5000 -6.9062 155.5781 -6.9062 Q 154.5469 -6.9062 153.9062 -6.3906 Q 153.2812 -5.8906 153.1875 -4.9531 L 157.6250 -4.9531 Z" fill="#000000"/></g>
</g>
<g id="line2d_31">
<path d="M 115.376497 448.56 L 262.438584 448.56 L 267.118576 431.87256 L 272.158568 425.2752 L 276.478561 413.6328 L 282.238551 398.1096 L 285.478545 386.4672 L 288.71854 375.40692 L 292.318534 370.944 L 296.278527 370.944 L 300.238521 378.7056 L 303.838515 386.4672 L 311.038503 363.1824 L 314.638497 363.1824 L 318.23849 352.70424 L 321.838484 347.6592 L 324.71848 336.0168 L 328.678473 332.136 L 332.278467 339.8976 L 335.878461 343.7784 L 339.478455 351.54 L 343.078449 324.3744 L 346.678443 328.2552 L 349.918437 320.4936 L 353.878431 316.6128 L 357.478425 330.1956 L 361.078419 324.3744 L 364.678413 320.4936 L 368.278407 328.2552 L 371.878401 336.0168 L 375.478394 332.136 L 378.934389 339.8976 L 382.678382 332.136 L 386.278376 339.8976 L 389.87837 351.54 L 393.478364 351.54 L 397.078358 355.4208 L 400.678352 359.3016 L 404.278346 339.8976 L 407.87834 339.8976 L 411.478334 336.0168 L 415.078328 320.4936 L 418.678322 308.8512 L 422.278316 304.9704 L 425.87831 320.4936 L 429.478304 328.2552 L 433.078298 332.136 L 436.678292 328.2552 L 440.278286 332.136 L 443.87828 339.8976 L 447.478274 351.54 L 453.958263 343.7784 L 461.51825 351.54 L 469.438237 336.0168 L 472.678231 324.3744 L 475.918226 301.0896 L 479.51822 293.328 L 483.478213 293.328 L 486.718208 301.0896 L 490.318202 304.9704 L 493.918196 297.2088 L 497.51819 308.8512 L 501.118184 308.8512 L 504.718178 312.732 L 508.318172 320.4936 L 511.918166 324.3744 L 515.51816 336.0168 L 519.118154 339.8976 L 522.718147 347.6592 L 526.318141 339.8976 L 529.918135 351.54 L 537.118123 351.54 L 540.718117 347.6592 L 544.318111 339.8976 L 547.918105 343.7784 L 551.518099 351.54 L 559.078086 351.54 L 562.67808 359.3016 L 565.918075 378.7056 L 576.718057 390.348 L 580.318051 405.09504 L 584.350044 448.56 L 622.788553 448.56 " clip-path="url(#p07c3448b4f)" style="fill: none; stroke: #1f77b4; stroke-opacity: 0.5; stroke-width: 1.5; stroke-linecap: square"/>
</g>
<g id="line2d_32">
<path d="M 115.376497 448.56 L 263.158583 448.56 L 266.974576 429.93216 L 270.71857 417.12552 L 277.198559 410.52816 L 287.998541 398.1096 L 291.958535 405.8712 L 299.158522 405.8712 L 305.998511 402.37848 L 307.078509 398.1096 L 310.318504 385.30296 L 313.918498 377.92944 L 317.518492 367.0632 L 320.758486 370.944 L 324.35848 367.0632 L 327.958474 359.3016 L 334.798463 351.54 L 345.598445 324.3744 L 352.798433 351.54 L 359.99842 351.54 L 367.198408 343.7784 L 370.798402 351.54 L 377.99839 320.4936 L 381.598384 339.8976 L 385.558378 347.6592 L 388.798372 339.8976 L 392.398366 347.6592 L 395.99836 332.136 L 399.598354 328.2552 L 413.99833 359.3016 L 417.598324 347.6592 L 421.198318 345.7188 L 424.798312 343.7784 L 428.398306 355.4208 L 431.9983 359.3016 L 435.598294 355.4208 L 439.198288 370.944 L 442.798282 382.5864 L 449.998269 390.348 L 457.198257 390.348 L 460.798251 378.7056 L 464.398245 386.4672 L 475.198227 374.8248 L 482.398215 359.3016 L 489.598203 347.6592 L 493.198197 328.2552 L 496.798191 328.2552 L 500.038186 339.8976 L 507.598173 339.8976 L 511.198167 343.7784 L 514.438161 343.7784 L 515.878159 351.54 L 518.398155 367.0632 L 521.998149 370.944 L 525.598143 378.7056 L 529.198137 370.944 L 532.798131 374.8248 L 536.398125 370.944 L 543.598112 359.3016 L 547.198106 355.4208 L 550.7981 370.944 L 554.398094 378.7056 L 557.998088 386.4672 L 561.598082 399.66192 L 568.79807 413.6328 L 572.398064 417.5136 L 575.998058 429.93216 L 580.318051 440.7984 L 582.838047 448.56 L 622.788553 448.56 " clip-path="url(#p07c3448b4f)" style="fill: none; stroke: #ff7f0e; stroke-opacity: 0.5; stroke-width: 1.5; stroke-linecap: square"/>
</g>
<g id="line2d_33">
<path d="M 192.96197 448.56 L 262.078585 448.56 L 266.398577 429.156 L 268.558574 429.156 L 272.158568 422.55864 L 273.958565 416.34936 L 275.758562 406.64736 L 279.718555 398.1096 L 282.95855 394.2288 L 286.558544 398.1096 L 290.158538 394.2288 L 293.758532 398.1096 L 297.358526 388.4076 L 300.958519 378.7056 L 304.558513 370.944 L 312.118501 370.944 L 315.358495 378.7056 L 318.958489 386.4672 L 322.558483 390.348 L 326.158477 382.5864 L 329.038472 369.0036 L 333.718465 358.91352 L 336.59846 332.136 L 343.798448 312.732 L 347.758441 312.732 L 351.358435 308.8512 L 358.414423 293.328 L 361.798417 301.0896 L 365.398411 311.95584 L 368.638406 318.94128 L 372.2384 330.58368 L 376.198393 343.7784 L 379.654387 339.8976 L 386.998375 343.7784 L 390.670369 332.136 L 394.126363 339.8976 L 397.726357 328.2552 L 401.470351 320.4936 L 404.998345 320.4936 L 408.958338 332.136 L 412.558332 328.2552 L 416.158326 334.0764 L 419.75832 339.8976 L 422.998315 353.4804 L 426.238309 367.0632 L 429.838303 374.8248 L 433.798297 386.4672 L 437.398291 390.348 L 444.598279 390.348 L 448.198272 367.0632 L 451.798266 355.4208 L 455.39826 359.3016 L 458.998254 370.944 L 462.598248 370.944 L 466.198242 378.7056 L 469.798236 351.54 L 473.39823 337.9572 L 476.638225 324.3744 L 480.238219 324.3744 L 484.198212 320.4936 L 487.798206 320.4936 L 491.038201 324.3744 L 495.358193 324.3744 L 498.598188 327.09096 L 502.198182 324.3744 L 505.798176 328.2552 L 509.39817 320.4936 L 512.998164 328.2552 L 516.598158 332.136 L 519.838152 339.8976 L 522.718147 347.6592 L 527.758139 359.3016 L 582.478047 443.51496 L 585.358042 448.56 L 622.788553 448.56 " clip-path="url(#p07c3448b4f)" style="fill: none; stroke: #2ca02c; stroke-opacity: 0.5; stroke-width: 1.5; stroke-linecap: square"/>
</g>
<g id="line2d_34">
<path d="M 115.376497 448.56 L 263.518582 448.56 L 266.182578 409.752 L 277.198559 382.5864 L 280.798553 367.0632 L 284.398547 370.944 L 287.998541 378.7056 L 295.198529 378.7056 L 298.654523 370.944 L 302.398517 374.8248 L 305.998511 378.7056 L 309.598505 363.1824 L 313.054499 367.0632 L 316.798493 359.3016 L 320.398487 343.7784 L 327.598475 336.0168 L 334.798463 293.328 L 338.398457 285.5664 L 345.598445 293.328 L 349.198439 320.4936 L 352.438433 326.3148 L 356.398426 347.6592 L 368.638406 347.6592 L 371.518401 343.7784 L 374.398396 328.2552 L 377.99839 328.2552 L 381.598384 343.7784 L 385.198378 332.136 L 388.798372 332.136 L 392.398366 324.3744 L 395.99836 351.54 L 399.598354 355.4208 L 403.198348 347.6592 L 410.398336 355.4208 L 413.99833 355.4208 L 417.598324 367.0632 L 421.198318 359.3016 L 424.798312 339.8976 L 431.9983 332.136 L 435.238294 339.8976 L 438.838288 328.2552 L 442.798282 332.136 L 446.398276 324.3744 L 449.998269 328.2552 L 453.238264 343.7784 L 457.198257 347.6592 L 460.438252 363.1824 L 467.998239 355.4208 L 471.598233 355.4208 L 475.198227 339.8976 L 478.438222 332.136 L 482.398215 347.6592 L 493.198197 347.6592 L 500.038186 339.8976 L 503.998179 343.7784 L 507.238173 351.54 L 510.838167 347.6592 L 514.438161 359.3016 L 521.638149 367.0632 L 531.358133 367.0632 L 534.958127 370.944 L 545.758109 370.944 L 548.998103 355.4208 L 552.958097 359.3016 L 556.558091 359.3016 L 560.158085 363.1824 L 563.758079 378.7056 L 569.734069 392.2884 L 571.534066 395.39304 L 572.542064 407.03544 L 574.270061 421.00632 L 577.078056 424.49904 L 580.318051 427.2156 L 582.262048 430.70832 L 585.214043 448.56 L 622.788553 448.56 " clip-path="url(#p07c3448b4f)" style="fill: none; stroke: #d62728; stroke-opacity: 0.5; stroke-width: 1.5; stroke-linecap: square"/>
</g>
<g id="line2d_35">
<rect x="114.048" y="447.12" width="148.392" height="0.72" fill="rgb(105,67,30)" fill-opacity="0.08"/><rect x="585" y="447.12" width="38.664" height="0.72" fill="rgb(105,67,30)" fill-opacity="0.08"/><rect x="115.200" y="447.5600" width="7.400" height="1.0000" fill="#000000"/><rect x="125.800" y="447.5600" width="7.400" height="1.0000" fill="#000000"/><rect x="136.400" y="447.5600" width="7.400" height="1.0000" fill="#000000"/><rect x="147.000" y="447.5600" width="7.400" height="1.0000" fill="#000000"/><rect x="157.600" y="447.5600" width="7.400" height="1.0000" fill="#000000"/><rect x="168.200" y="447.5600" width="7.400" height="1.0000" fill="#000000"/><rect x="178.800" y="447.5600" width="7.400" height="1.0000" fill="#000000"/><rect x="189.400" y="447.5600" width="7.400" height="1.0000" fill="#000000"/><rect x="200.000" y="447.5600" width="7.400" height="1.0000" fill="#000000"/><rect x="210.600" y="447.5600" width="7.400" height="1.0000" fill="#000000"/><rect x="221.200" y="447.5600" width="7.400" height="1.0000" fill="#000000"/><rect x="231.800" y="447.5600" width="7.400" height="1.0000" fill="#000000"/><rect x="242.400" y="447.5600" width="7.400" height="1.0000" fill="#000000"/><rect x="253.000" y="447.5600" width="7.400" height="1.0000" fill="#000000"/><rect x="595.512" y="447.5600" width="7.400" height="1.0000" fill="#000000"/><rect x="606.096" y="447.5600" width="7.400" height="1.0000" fill="#000000"/><rect x="616.680" y="447.5600" width="6.336" height="1.0000" fill="#000000"/><path d="M 263.066 446.463 L 264.247 439.143 M 264.759 435.972 L 265.896 428.923 L 265.956 428.630 M 266.607 425.475 L 266.688 425.081 L 269.208 418.911 L 269.329 418.695 M 270.835 415.980 L 273.600 409.752 L 273.778 409.271 M 274.903 406.241 L 275.184 405.483 L 277.704 400.050 L 277.851 399.426 M 278.587 396.310 L 278.712 395.781 L 282.528 390.736 L 282.932 390.611 M 285.896 389.689 L 286.272 389.572 L 288.576 387.049 L 291.600 387.243 L 292.007 387.341 M 294.984 387.802 L 296.640 385.303 L 300.632 384.150 M 303.644 384.139 L 303.912 384.139 L 306.216 383.363 L 307.440 379.482 L 307.594 379.024 M 308.636 375.937 L 308.880 375.213 L 310.104 371.720 L 312.120 370.168 L 312.253 370.076 M 314.675 368.402 L 314.928 368.227 L 317.160 365.123 L 318.672 363.182 L 318.990 362.959 M 321.520 361.180 L 321.984 360.854 L 325.512 355.809 L 325.786 355.380 M 327.489 352.715 L 327.744 352.316 L 329.040 346.495 L 329.426 345.662 M 330.773 342.759 L 331.200 341.838 L 333.800 336.232 M 334.917 333.424 L 337.320 327.091 L 337.520 326.822 M 339.382 324.312 L 339.624 323.986 L 342.648 318.553 L 342.852 317.729 M 343.653 314.490 L 343.800 313.896 L 345.384 313.896 L 347.063 318.965 M 348.409 321.844 L 348.696 322.434 L 353.232 326.315 L 353.669 327.114 M 355.281 330.033 L 357.480 332.136 L 358.992 330.584 L 361.194 330.584 M 364.261 330.761 L 364.536 330.778 L 366.840 332.252 L 368.928 335.241 L 369.165 335.392 M 371.628 336.973 L 371.952 337.181 L 373.752 334.659 L 376.488 333.688 L 376.687 333.841 M 378.916 335.558 L 379.008 335.629 L 381.312 338.190 L 383.832 336.948 L 383.980 337.150 M 385.710 339.495 L 386.064 339.975 L 387.864 340.286 L 391.104 338.345 L 391.297 338.888 M 392.283 341.665 L 392.400 341.993 L 394.920 344.555 L 396.936 343.002 L 397.151 342.803 M 399.292 340.825 L 399.456 340.674 L 404.712 337.181 L 404.990 337.770 M 406.398 340.752 L 406.728 341.450 L 408.744 343.778 L 411.768 343.507 L 411.897 343.484 M 414.628 343.006 L 414.648 343.002 L 417.456 341.838 L 418.968 338.927 L 419.245 338.750 M 421.782 337.195 L 424.512 337.686 L 426.024 341.838 L 426.044 341.872 M 427.673 344.695 L 428.040 345.331 L 429.552 347.659 L 432.288 349.600 L 432.480 350.067 M 433.661 352.948 L 433.800 353.286 L 436.104 351.928 L 439.344 353.868 L 439.485 354.291 M 440.488 357.295 L 440.640 357.749 L 444.168 360.582 L 445.896 360.078 L 446.215 359.817 M 448.598 357.875 L 448.848 357.672 L 451.656 357.672 L 455.040 359.573 L 455.099 359.680 M 456.610 362.382 L 456.840 362.794 L 458.928 365.705 L 461.160 365.899 L 461.885 365.899 M 464.859 365.899 L 464.976 365.899 L 467.208 363.959 L 468.216 360.466 L 468.310 360.079 M 469.059 356.995 L 469.224 356.313 L 471.528 353.480 L 472.032 351.152 L 472.133 350.555 M 472.661 347.424 L 472.752 346.883 L 475.056 341.217 L 475.125 340.512 M 475.436 337.325 L 475.488 336.793 L 477.720 330.972 L 478.260 331.003 M 481.374 331.183 L 481.752 331.205 L 483.264 329.691 L 487.584 330.196 L 487.745 330.113 M 490.392 328.754 L 490.608 328.643 L 492.624 326.160 L 494.136 323.365 L 494.429 323.681 M 496.551 325.968 L 496.872 326.315 L 502.416 329.187 L 502.708 329.535 M 504.684 331.899 L 504.720 331.942 L 506.736 333.417 L 511.272 333.223 L 511.337 333.505 M 512.077 336.726 L 512.208 337.297 L 514.368 339.898 L 515.088 343.002 L 515.173 343.309 M 516.020 346.351 L 516.168 346.883 L 519.408 352.161 L 519.720 352.603 M 521.535 355.171 L 521.712 355.421 L 522.432 358.525 L 525.456 360.233 L 525.591 360.313 M 528.188 361.846 L 528.480 362.018 L 530.280 363.959 L 533.304 366.054 L 533.756 366.133 M 536.855 366.669 L 537.336 366.753 L 540.072 366.054 L 543.096 364.230 L 543.528 364.078 M 546.519 363.024 L 546.840 362.911 L 549.000 364.618 L 550.872 367.956 L 551.080 368.304 M 552.703 371.023 L 552.888 371.332 L 557.928 375.601 L 558.107 375.976 M 559.495 378.878 L 559.728 379.365 L 562.248 385.187 L 562.374 385.733 M 563.095 388.872 L 563.256 389.572 L 565.560 395.393 L 565.708 395.751 M 566.908 398.663 L 567.000 398.886 L 570.744 404.513 L 570.876 404.927 M 571.870 408.054 L 572.040 408.588 L 574.056 414.797 L 574.189 415.071 M 575.549 417.870 L 575.640 418.057 L 578.808 423.995 L 578.958 424.368 M 580.163 427.369 L 580.320 427.759 L 581.832 434.201 L 581.913 434.563 M 582.602 437.660 L 582.696 438.082 L 583.992 444.369 L 584.121 444.869 M 585.036 448.421 L 585.072 448.560 L 592.328 448.560" clip-path="url(#p07c3448b4f)" style="fill: none; stroke: #000000; stroke-width: 2"/>
</g>
<g id="patch_3">
<rect x="89.96" y="60.44" width="0.8" height="388.88" fill="#000000"/>
</g>
<g id="patch_4">
<rect x="647.96" y="60.44" width="0.8" height="388.88" fill="#000000"/>
</g>
<g id="patch_5">
<rect x="89.96" y="448.52" width="558.8" height="0.8" fill="#000000"/>
</g>
<g id="patch_6">
<rect x="89.96" y="60.44" width="558.8" height="0.8" fill="#000000"/>
</g>
<g id="text_18"><path transform="scale(0.72) translate(445 76)" d="M 3.2031 -11.6406 L 3.2031 -1.3594 L 5.2188 -1.3594 Q 7.7656 -1.3594 8.9375 -2.5938 Q 10.1250 -3.8281 10.1250 -6.5156 Q 10.1250 -9.1719 8.9375 -10.4062 Q 7.7656 -11.6406 5.2188 -11.6406 L 3.2031 -11.6406 Z M 1.6250 -13.0000 L 5.0156 -13.0000 Q 8.5625 -13.0000 10.2188 -11.4219 Q 11.8750 -9.8438 11.8750 -6.5156 Q 11.8750 -3.1562 10.2031 -1.5781 Q 8.5469 -0.0000 5.0156 -0.0000 L 1.6250 -0.0000 L 1.6250 -13.0000 Z M 18.5312 -4.7344 Q 16.7500 -4.7344 16.0625 -4.3438 Q 15.3750 -3.9531 15.3750 -3.0000 Q 15.3750 -2.2500 15.8906 -1.7969 Q 16.4062 -1.3594 17.2969 -1.3594 Q 18.5156 -1.3594 19.2500 -2.1875 Q 20.0000 -3.0312 20.0000 -4.4219 L 20.0000 -4.7344 L 18.5312 -4.7344 Z M 21.5000 -5.5781 L 21.5000 -0.0000 L 20.0000 -0.0000 L 20.0000 -1.7031 Q 19.5000 -0.8281 18.7344 -0.4062 Q 17.9844 -0.0000 16.8906 -0.0000 Q 15.5156 -0.0000 14.6875 -0.7969 Q 13.8750 -1.5938 13.8750 -2.9219 Q 13.8750 -4.5000 14.8906 -5.2812 Q 15.9062 -6.0781 17.9219 -6.0781 L 20.0000 -6.0781 L 20.0000 -6.2344 Q 20.0000 -7.3906 19.3281 -8.0156 Q 18.6562 -8.6406 17.4531 -8.6406 Q 16.6719 -8.6406 15.9375 -8.4375 Q 15.2188 -8.2344 14.5469 -7.8125 L 14.5469 -9.3281 Q 15.3594 -9.6719 16.1250 -9.8281 Q 16.8906 -10.0000 17.6094 -10.0000 Q 19.5625 -10.0000 20.5312 -8.9062 Q 21.5000 -7.8125 21.5000 -5.5781 Z M 26.1250 -12.5000 L 26.1250 -10.0000 L 29.1250 -10.0000 L 29.1250 -8.6406 L 26.1250 -8.6406 L 26.1250 -3.2500 Q 26.1250 -2.0469 26.4219 -1.6875 Q 26.7188 -1.3438 27.6250 -1.3438 L 29.1250 -1.3438 L 29.1250 -0.0000 L 27.5938 -0.0000 Q 25.8594 -0.0000 25.2031 -0.7031 Q 24.5469 -1.4062 24.5469 -3.2656 L 24.5469 -8.6406 L 23.5000 -8.6406 L 23.5000 -10.0000 L 24.5469 -10.0000 L 24.5469 -12.5000 L 26.1250 -12.5000 Z M 35.1562 -4.7344 Q 33.3750 -4.7344 32.6875 -4.3438 Q 32.0000 -3.9531 32.0000 -3.0000 Q 32.0000 -2.2500 32.5156 -1.7969 Q 33.0312 -1.3594 33.9219 -1.3594 Q 35.1406 -1.3594 35.8750 -2.1875 Q 36.6250 -3.0312 36.6250 -4.4219 L 36.6250 -4.7344 L 35.1562 -4.7344 Z M 38.1250 -5.5781 L 38.1250 -0.0000 L 36.6250 -0.0000 L 36.6250 -1.7031 Q 36.1250 -0.8281 35.3594 -0.4062 Q 34.6094 -0.0000 33.5156 -0.0000 Q 32.1406 -0.0000 31.3125 -0.7969 Q 30.5000 -1.5938 30.5000 -2.9219 Q 30.5000 -4.5000 31.5156 -5.2812 Q 32.5312 -6.0781 34.5469 -6.0781 L 36.6250 -6.0781 L 36.6250 -6.2344 Q 36.6250 -7.3906 35.9531 -8.0156 Q 35.2812 -8.6406 34.0781 -8.6406 Q 33.2969 -8.6406 32.5625 -8.4375 Q 31.8438 -8.2344 31.1719 -7.8125 L 31.1719 -9.3281 Q 31.9844 -9.6719 32.7500 -9.8281 Q 33.5156 -10.0000 34.2344 -10.0000 Q 36.1875 -10.0000 37.1562 -8.9062 Q 38.1250 -7.8125 38.1250 -5.5781 Z M 51.0625 -14.0000 L 51.0625 -12.6406 L 49.6250 -12.6406 Q 48.8281 -12.6406 48.5156 -12.2656 Q 48.2031 -11.9062 48.2031 -10.9375 L 48.2031 -10.0000 L 50.6250 -10.0000 L 50.6250 -8.6406 L 48.2031 -8.6406 L 48.2031 -0.0000 L 46.6250 -0.0000 L 46.6250 -8.6406 L 45.2500 -8.6406 L 45.2500 -10.0000 L 46.6250 -10.0000 L 46.6250 -10.7188 Q 46.6250 -12.4219 47.3438 -13.2031 Q 48.0625 -14.0000 49.6250 -14.0000 L 51.0625 -14.0000 Z M 55.7969 -8.6406 Q 54.5938 -8.6406 53.8906 -7.6562 Q 53.2031 -6.6875 53.2031 -5.0000 Q 53.2031 -3.3125 53.8906 -2.3281 Q 54.5781 -1.3594 55.7969 -1.3594 Q 56.9844 -1.3594 57.6719 -2.3281 Q 58.3750 -3.3125 58.3750 -5.0000 Q 58.3750 -6.6719 57.6719 -7.6562 Q 56.9844 -8.6406 55.7969 -8.6406 Z M 55.7812 -10.0000 Q 57.7344 -10.0000 58.8438 -8.6719 Q 59.9531 -7.3438 59.9531 -5.0000 Q 59.9531 -2.6719 58.8438 -1.3281 Q 57.7344 -0.0000 55.7812 -0.0000 Q 53.8281 -0.0000 52.7188 -1.3281 Q 51.6250 -2.6719 51.6250 -5.0000 Q 51.6250 -7.3438 52.7188 -8.6719 Q 53.8281 -10.0000 55.7812 -10.0000 Z M 67.6875 -8.3281 Q 67.4375 -8.4844 67.1406 -8.5625 Q 66.8594 -8.6406 66.5156 -8.6406 Q 65.2812 -8.6406 64.6094 -7.7344 Q 63.9531 -6.8438 63.9531 -5.1719 L 63.9531 -0.0000 L 62.3750 -0.0000 L 62.3750 -10.0000 L 63.9531 -10.0000 L 63.9531 -8.3125 Q 64.4062 -9.1719 65.1406 -9.5781 Q 65.8906 -10.0000 66.9531 -10.0000 Q 67.0938 -10.0000 67.2812 -10.0312 Q 67.4688 -10.0625 67.6875 -10.1562 L 67.6875 -8.3281 Z M 81.8750 -12.3750 L 81.8750 -10.7188 Q 80.9375 -11.1875 80.1094 -11.4062 Q 79.2812 -11.6406 78.5000 -11.6406 Q 77.1562 -11.6406 76.4219 -11.1094 Q 75.7031 -10.5781 75.7031 -9.5781 Q 75.7031 -8.7344 76.1875 -8.3125 Q 76.6719 -7.8906 78.0312 -7.6406 L 79.0312 -7.4219 Q 80.8750 -7.0625 81.7500 -6.1406 Q 82.6250 -5.2344 82.6250 -3.7031 Q 82.6250 -1.8750 81.4375 -0.9375 Q 80.2656 -0.0000 78.0000 -0.0000 Q 77.1406 -0.0000 76.1719 -0.1875 Q 75.2031 -0.3906 74.1719 -0.7812 L 74.1719 -2.5312 Q 75.1562 -1.9375 76.1094 -1.6406 Q 77.0625 -1.3594 77.9688 -1.3594 Q 79.3594 -1.3594 80.1094 -1.9219 Q 80.8750 -2.5000 80.8750 -3.5625 Q 80.8750 -4.4844 80.3281 -5.0000 Q 79.7969 -5.5312 78.5469 -5.7969 L 77.5625 -5.9844 Q 75.7500 -6.3750 74.9375 -7.1719 Q 74.1250 -7.9844 74.1250 -9.4219 Q 74.1250 -11.0781 75.2500 -12.0312 Q 76.3750 -13.0000 78.3594 -13.0000 Q 79.2031 -13.0000 80.0781 -12.8438 Q 80.9531 -12.6875 81.8750 -12.3750 Z M 84.8750 -4.1094 L 84.8750 -10.0000 L 86.3750 -10.0000 L 86.3750 -4.1406 Q 86.3750 -2.7500 86.8750 -2.0469 Q 87.3750 -1.3594 88.3906 -1.3594 Q 89.5938 -1.3594 90.2969 -2.1875 Q 91.0000 -3.0156 91.0000 -4.4531 L 91.0000 -10.0000 L 92.5000 -10.0000 L 92.5000 -0.0000 L 91.0000 -0.0000 L 91.0000 -1.7188 Q 90.4531 -0.8438 89.7344 -0.4219 Q 89.0156 -0.0000 88.0625 -0.0000 Q 86.5000 -0.0000 85.6875 -1.0469 Q 84.8750 -2.0938 84.8750 -4.1094 Z M 88.6719 -10.0000 L 88.6719 -10.0000 Z M 103.1250 -5.8906 L 103.1250 -0.0000 L 101.6250 -0.0000 L 101.6250 -5.8594 Q 101.6250 -7.2656 101.1250 -7.9531 Q 100.6406 -8.6406 99.6406 -8.6406 Q 98.4531 -8.6406 97.7656 -7.8125 Q 97.0781 -6.9844 97.0781 -5.5312 L 97.0781 -0.0000 L 95.5000 -0.0000 L 95.5000 -10.0000 L 97.0781 -10.0000 L 97.0781 -8.2812 Q 97.6094 -9.1562 98.3281 -9.5781 Q 99.0469 -10.0000 99.9844 -10.0000 Q 101.5312 -10.0000 102.3281 -8.9531 Q 103.1250 -7.9219 103.1250 -5.8906 Z M 112.0000 -8.2812 L 112.0000 -14.0000 L 113.5000 -14.0000 L 113.5000 -0.0000 L 112.0000 -0.0000 L 112.0000 -1.7188 Q 111.5312 -0.8438 110.8125 -0.4219 Q 110.0938 -0.0000 109.0938 -0.0000 Q 107.4375 -0.0000 106.4062 -1.3750 Q 105.3750 -2.7656 105.3750 -5.0000 Q 105.3750 -7.2344 106.4062 -8.6094 Q 107.4375 -10.0000 109.0938 -10.0000 Q 110.0938 -10.0000 110.8125 -9.5781 Q 111.5312 -9.1562 112.0000 -8.2812 Z M 106.9531 -5.0000 Q 106.9531 -3.2969 107.6250 -2.3281 Q 108.2969 -1.3594 109.4688 -1.3594 Q 110.6406 -1.3594 111.3125 -2.3281 Q 112.0000 -3.2969 112.0000 -5.0000 Q 112.0000 -6.7031 111.3125 -7.6719 Q 110.6406 -8.6406 109.4688 -8.6406 Q 108.2969 -8.6406 107.6250 -7.6719 Q 106.9531 -6.7031 106.9531 -5.0000 Z M 120.6562 -4.7344 Q 118.8750 -4.7344 118.1875 -4.3438 Q 117.5000 -3.9531 117.5000 -3.0000 Q 117.5000 -2.2500 118.0156 -1.7969 Q 118.5312 -1.3594 119.4219 -1.3594 Q 120.6406 -1.3594 121.3750 -2.1875 Q 122.1250 -3.0312 122.1250 -4.4219 L 122.1250 -4.7344 L 120.6562 -4.7344 Z M 123.6250 -5.5781 L 123.6250 -0.0000 L 122.1250 -0.0000 L 122.1250 -1.7031 Q 121.6250 -0.8281 120.8594 -0.4062 Q 120.1094 -0.0000 119.0156 -0.0000 Q 117.6406 -0.0000 116.8125 -0.7969 Q 116.0000 -1.5938 116.0000 -2.9219 Q 116.0000 -4.5000 117.0156 -5.2812 Q 118.0312 -6.0781 120.0469 -6.0781 L 122.1250 -6.0781 L 122.1250 -6.2344 Q 122.1250 -7.3906 121.4531 -8.0156 Q 120.7812 -8.6406 119.5781 -8.6406 Q 118.7969 -8.6406 118.0625 -8.4375 Q 117.3438 -8.2344 116.6719 -7.8125 L 116.6719 -9.3281 Q 117.4844 -9.6719 118.2500 -9.8281 Q 119.0156 -10.0000 119.7344 -10.0000 Q 121.6875 -10.0000 122.6562 -8.9062 Q 123.6250 -7.8125 123.6250 -5.5781 Z M 130.5312 1.0781 Q 129.9062 2.8906 129.2969 3.4375 Q 128.7031 4.0000 127.6875 4.0000 L 126.5000 4.0000 L 126.5000 2.6562 L 127.3750 2.6562 Q 128.0000 2.6562 128.3281 2.3281 Q 128.6719 2.0000 129.0938 0.7812 L 129.3594 0.0156 L 125.6875 -10.0000 L 127.2656 -10.0000 L 130.1094 -2.0312 L 132.9531 -10.0000 L 134.5312 -10.0000 L 130.5312 1.0781 Z" fill="#000000"/></g>
<g id="legend_1">
<g id="patch_7">
<path d="M 518.76 83.88 L 641.16 83.88 Q 643.32 83.88 643.32 81.72 L 643.32 68.04 Q 643.32 65.88 641.16 65.88 L 518.76 65.88 Q 517.32 65.88 517.32 68.04 L 517.32 81.72 Q 517.32 83.88 518.76 83.88 z" style="fill: #ffffff; opacity: 0.8; stroke: #cccccc; stroke-linejoin: miter"/>
</g>
<g id="line2d_36">
<rect x="520.92" y="73.52" width="7.4" height="2" fill="#000000"/><rect x="531.52" y="73.52" width="7.4" height="2" fill="#000000"/>
</g>
<g id="text_19"><path transform="scale(0.72) translate(762 107)" d="M 0.4688 -10.0000 L 1.8438 -10.0000 L 3.9688 -1.5469 L 6.0938 -10.0000 L 7.6250 -10.0000 L 9.7500 -1.5469 L 11.8750 -10.0000 L 13.2656 -10.0000 L 10.7188 -0.0000 L 9.0000 -0.0000 L 6.8750 -8.6875 L 4.7188 -0.0000 L 3.0000 -0.0000 L 0.4688 -10.0000 Z M 20.8125 -4.4531 L 20.8125 -3.8594 L 15.0625 -3.8594 Q 15.0625 -2.5000 15.7656 -1.7969 Q 16.4688 -1.0938 17.7344 -1.0938 Q 18.4688 -1.0938 19.1406 -1.2812 Q 19.8281 -1.4688 20.5156 -1.8281 L 20.5156 -0.6094 Q 19.8438 -0.3281 19.1250 -0.1562 Q 18.4219 -0.0000 17.7031 -0.0000 Q 15.8750 -0.0000 14.8125 -1.0625 Q 13.7500 -2.1250 13.7500 -3.9375 Q 13.7500 -5.8125 14.7500 -6.9062 Q 15.7656 -8.0000 17.4844 -8.0000 Q 19.0312 -8.0000 19.9219 -7.0469 Q 20.8125 -6.0938 20.8125 -4.4531 Z M 19.5000 -4.9531 Q 19.5000 -5.8438 18.9375 -6.3750 Q 18.3750 -6.9062 17.4531 -6.9062 Q 16.4219 -6.9062 15.7812 -6.3906 Q 15.1562 -5.8906 15.0625 -4.9531 L 19.5000 -4.9531 Z M 29.3125 -4.4531 L 29.3125 -3.8594 L 23.5625 -3.8594 Q 23.5625 -2.5000 24.2656 -1.7969 Q 24.9688 -1.0938 26.2344 -1.0938 Q 26.9688 -1.0938 27.6406 -1.2812 Q 28.3281 -1.4688 29.0156 -1.8281 L 29.0156 -0.6094 Q 28.3438 -0.3281 27.6250 -0.1562 Q 26.9219 -0.0000 26.2031 -0.0000 Q 24.3750 -0.0000 23.3125 -1.0625 Q 22.2500 -2.1250 22.2500 -3.9375 Q 22.2500 -5.8125 23.2500 -6.9062 Q 24.2656 -8.0000 25.9844 -8.0000 Q 27.5312 -8.0000 28.4219 -7.0469 Q 29.3125 -6.0938 29.3125 -4.4531 Z M 28.0000 -4.9531 Q 28.0000 -5.8438 27.4375 -6.3750 Q 26.8750 -6.9062 25.9531 -6.9062 Q 24.9219 -6.9062 24.2812 -6.3906 Q 23.6562 -5.8906 23.5625 -4.9531 L 28.0000 -4.9531 Z M 31.2500 -11.0000 L 32.5625 -11.0000 L 32.5625 -4.5469 L 36.2812 -8.0000 L 37.8750 -8.0000 L 33.8594 -4.2500 L 38.0469 -0.0000 L 36.4219 -0.0000 L 32.5625 -3.9062 L 32.5625 -0.0000 L 31.2500 -0.0000 L 31.2500 -11.0000 Z M 44.3750 -6.6250 L 44.3750 -11.0000 L 45.6875 -11.0000 L 45.6875 -0.0000 L 44.3750 -0.0000 L 44.3750 -1.3750 Q 43.9844 -0.6719 43.3906 -0.3281 Q 42.7969 -0.0000 41.9531 -0.0000 Q 40.5938 -0.0000 39.7344 -1.0938 Q 38.8750 -2.2031 38.8750 -4.0000 Q 38.8750 -5.7969 39.7344 -6.8906 Q 40.5938 -8.0000 41.9531 -8.0000 Q 42.7969 -8.0000 43.3906 -7.6562 Q 43.9844 -7.3281 44.3750 -6.6250 Z M 40.1875 -4.0000 Q 40.1875 -2.6406 40.7344 -1.8594 Q 41.2969 -1.0938 42.2812 -1.0938 Q 43.2500 -1.0938 43.8125 -1.8594 Q 44.3750 -2.6406 44.3750 -4.0000 Q 44.3750 -5.3594 43.8125 -6.1250 Q 43.2500 -6.9062 42.2812 -6.9062 Q 41.2969 -6.9062 40.7344 -6.1250 Q 40.1875 -5.3594 40.1875 -4.0000 Z M 51.7969 -3.8594 Q 50.3281 -3.8594 49.7500 -3.5312 Q 49.1875 -3.2188 49.1875 -2.4375 Q 49.1875 -1.8125 49.6094 -1.4531 Q 50.0469 -1.0938 50.7656 -1.0938 Q 51.7812 -1.0938 52.3906 -1.7812 Q 53.0000 -2.4688 53.0000 -3.6094 L 53.0000 -3.8594 L 51.7969 -3.8594 Z M 54.3125 -4.4531 L 54.3125 -0.0000 L 53.0000 -0.0000 L 53.0000 -1.3750 Q 52.5781 -0.6719 51.9375 -0.3281 Q 51.3125 -0.0000 50.3906 -0.0000 Q 49.2344 -0.0000 48.5469 -0.6406 Q 47.8750 -1.2969 47.8750 -2.3906 Q 47.8750 -3.6719 48.7188 -4.3125 Q 49.5781 -4.9531 51.2656 -4.9531 L 53.0000 -4.9531 L 53.0000 -5.0938 Q 53.0000 -5.9531 52.4375 -6.4219 Q 51.8906 -6.9062 50.8750 -6.9062 Q 50.2344 -6.9062 49.6250 -6.7500 Q 49.0156 -6.5938 48.4688 -6.2812 L 48.4688 -7.4531 Q 49.1406 -7.7188 49.7812 -7.8594 Q 50.4375 -8.0000 51.0469 -8.0000 Q 52.6875 -8.0000 53.5000 -7.1094 Q 54.3125 -6.2344 54.3125 -4.4531 Z M 60.1250 0.7031 Q 59.5938 2.1406 59.0938 2.5625 Q 58.5938 3.0000 57.7500 3.0000 L 56.7500 3.0000 L 56.7500 1.9219 L 57.4844 1.9219 Q 58.0000 1.9219 58.2812 1.6562 Q 58.5625 1.4062 58.9062 0.4531 L 59.1406 -0.1406 L 56.0625 -8.0000 L 57.3906 -8.0000 L 59.7656 -1.7500 L 62.1250 -8.0000 L 63.4531 -8.0000 L 60.1250 0.7031 Z M 73.0000 -9.1562 L 71.1406 -3.9844 L 74.8594 -3.9844 L 73.0000 -9.1562 Z M 72.2188 -10.0000 L 73.7656 -10.0000 L 77.6250 -0.0000 L 76.2031 -0.0000 L 75.2812 -2.8281 L 70.7188 -2.8281 L 69.7969 -0.0000 L 68.3594 -0.0000 L 72.2188 -10.0000 Z M 77.4219 -8.0000 L 78.7344 -8.0000 L 81.1094 -1.2812 L 83.4844 -8.0000 L 84.7969 -8.0000 L 81.9531 -0.0000 L 80.2656 -0.0000 L 77.4219 -8.0000 Z M 93.0625 -4.4531 L 93.0625 -3.8594 L 87.3125 -3.8594 Q 87.3125 -2.5000 88.0156 -1.7969 Q 88.7188 -1.0938 89.9844 -1.0938 Q 90.7188 -1.0938 91.3906 -1.2812 Q 92.0781 -1.4688 92.7656 -1.8281 L 92.7656 -0.6094 Q 92.0938 -0.3281 91.3750 -0.1562 Q 90.6719 -0.0000 89.9531 -0.0000 Q 88.1250 -0.0000 87.0625 -1.0625 Q 86.0000 -2.1250 86.0000 -3.9375 Q 86.0000 -5.8125 87.0000 -6.9062 Q 88.0156 -8.0000 89.7344 -8.0000 Q 91.2812 -8.0000 92.1719 -7.0469 Q 93.0625 -6.0938 93.0625 -4.4531 Z M 91.7500 -4.9531 Q 91.7500 -5.8438 91.1875 -6.3750 Q 90.6250 -6.9062 89.7031 -6.9062 Q 88.6719 -6.9062 88.0312 -6.3906 Q 87.4062 -5.8906 87.3125 -4.9531 L 91.7500 -4.9531 Z M 99.5000 -6.6562 Q 99.2969 -6.7812 99.0469 -6.8438 Q 98.7969 -6.9062 98.5000 -6.9062 Q 97.4531 -6.9062 96.8750 -6.1875 Q 96.3125 -5.4688 96.3125 -4.1406 L 96.3125 -0.0000 L 95.0000 -0.0000 L 95.0000 -8.0000 L 96.3125 -8.0000 L 96.3125 -6.6406 Q 96.7031 -7.3281 97.3281 -7.6562 Q 97.9688 -8.0000 98.8750 -8.0000 Q 99.0000 -8.0000 99.1562 -8.0156 Q 99.3125 -8.0469 99.5000 -8.1094 L 99.5000 -6.6562 Z M 104.2969 -3.8594 Q 102.8281 -3.8594 102.2500 -3.5312 Q 101.6875 -3.2188 101.6875 -2.4375 Q 101.6875 -1.8125 102.1094 -1.4531 Q 102.5469 -1.0938 103.2656 -1.0938 Q 104.2812 -1.0938 104.8906 -1.7812 Q 105.5000 -2.4688 105.5000 -3.6094 L 105.5000 -3.8594 L 104.2969 -3.8594 Z M 106.8125 -4.4531 L 106.8125 -0.0000 L 105.5000 -0.0000 L 105.5000 -1.3750 Q 105.0781 -0.6719 104.4375 -0.3281 Q 103.8125 -0.0000 102.8906 -0.0000 Q 101.7344 -0.0000 101.0469 -0.6406 Q 100.3750 -1.2969 100.3750 -2.3906 Q 100.3750 -3.6719 101.2188 -4.3125 Q 102.0781 -4.9531 103.7656 -4.9531 L 105.5000 -4.9531 L 105.5000 -5.0938 Q 105.5000 -5.9531 104.9375 -6.4219 Q 104.3906 -6.9062 103.3750 -6.9062 Q 102.7344 -6.9062 102.1250 -6.7500 Q 101.5156 -6.5938 100.9688 -6.2812 L 100.9688 -7.4531 Q 101.6406 -7.7188 102.2812 -7.8594 Q 102.9375 -8.0000 103.5469 -8.0000 Q 105.1875 -8.0000 106.0000 -7.1094 Q 106.8125 -6.2344 106.8125 -4.4531 Z M 114.3750 -4.0000 Q 114.3750 -5.3906 113.8281 -6.1406 Q 113.2812 -6.9062 112.2812 -6.9062 Q 111.2969 -6.9062 110.7344 -6.1406 Q 110.1875 -5.3906 110.1875 -4.0000 Q 110.1875 -2.6094 110.7344 -1.8438 Q 111.2969 -1.0938 112.2812 -1.0938 Q 113.2812 -1.0938 113.8281 -1.8438 Q 114.3750 -2.6094 114.3750 -4.0000 Z M 115.6875 -1.0156 Q 115.6875 1.0156 114.8281 2.0000 Q 113.9688 3.0000 112.1875 3.0000 Q 111.5312 3.0000 110.9375 2.8906 Q 110.3594 2.7812 109.8125 2.5781 L 109.8125 1.3125 Q 110.3594 1.6250 110.8750 1.7656 Q 111.4062 1.9062 111.9531 1.9062 Q 113.1719 1.9062 113.7656 1.2500 Q 114.3750 0.5938 114.3750 -0.7500 L 114.3750 -1.3906 Q 113.9844 -0.7031 113.3906 -0.3438 Q 112.7969 -0.0000 111.9531 -0.0000 Q 110.5781 -0.0000 109.7188 -1.0938 Q 108.8750 -2.1875 108.8750 -4.0000 Q 108.8750 -5.8125 109.7188 -6.9062 Q 110.5781 -8.0000 111.9531 -8.0000 Q 112.7969 -8.0000 113.3906 -7.6562 Q 113.9844 -7.3125 114.3750 -6.6094 L 114.3750 -8.0000 L 115.6875 -8.0000 L 115.6875 -1.0156 Z M 124.8125 -4.4531 L 124.8125 -3.8594 L 119.0625 -3.8594 Q 119.0625 -2.5000 119.7656 -1.7969 Q 120.4688 -1.0938 121.7344 -1.0938 Q 122.4688 -1.0938 123.1406 -1.2812 Q 123.8281 -1.4688 124.5156 -1.8281 L 124.5156 -0.6094 Q 123.8438 -0.3281 123.1250 -0.1562 Q 122.4219 -0.0000 121.7031 -0.0000 Q 119.8750 -0.0000 118.8125 -1.0625 Q 117.7500 -2.1250 117.7500 -3.9375 Q 117.7500 -5.8125 118.7500 -6.9062 Q 119.7656 -8.0000 121.4844 -8.0000 Q 123.0312 -8.0000 123.9219 -7.0469 Q 124.8125 -6.0938 124.8125 -4.4531 Z M 123.5000 -4.9531 Q 123.5000 -5.8438 122.9375 -6.3750 Q 122.3750 -6.9062 121.4531 -6.9062 Q 120.4219 -6.9062 119.7812 -6.3906 Q 119.1562 -5.8906 119.0625 -4.9531 L 123.5000 -4.9531 Z" fill="#000000"/></g>
</g>
</g>
</g>
<defs>
<clipPath id="p07c3448b4f">
<rect x="90" y="60.48" width="558" height="388.08"/>
</clipPath>
</defs>
</svg>

</body></html>
